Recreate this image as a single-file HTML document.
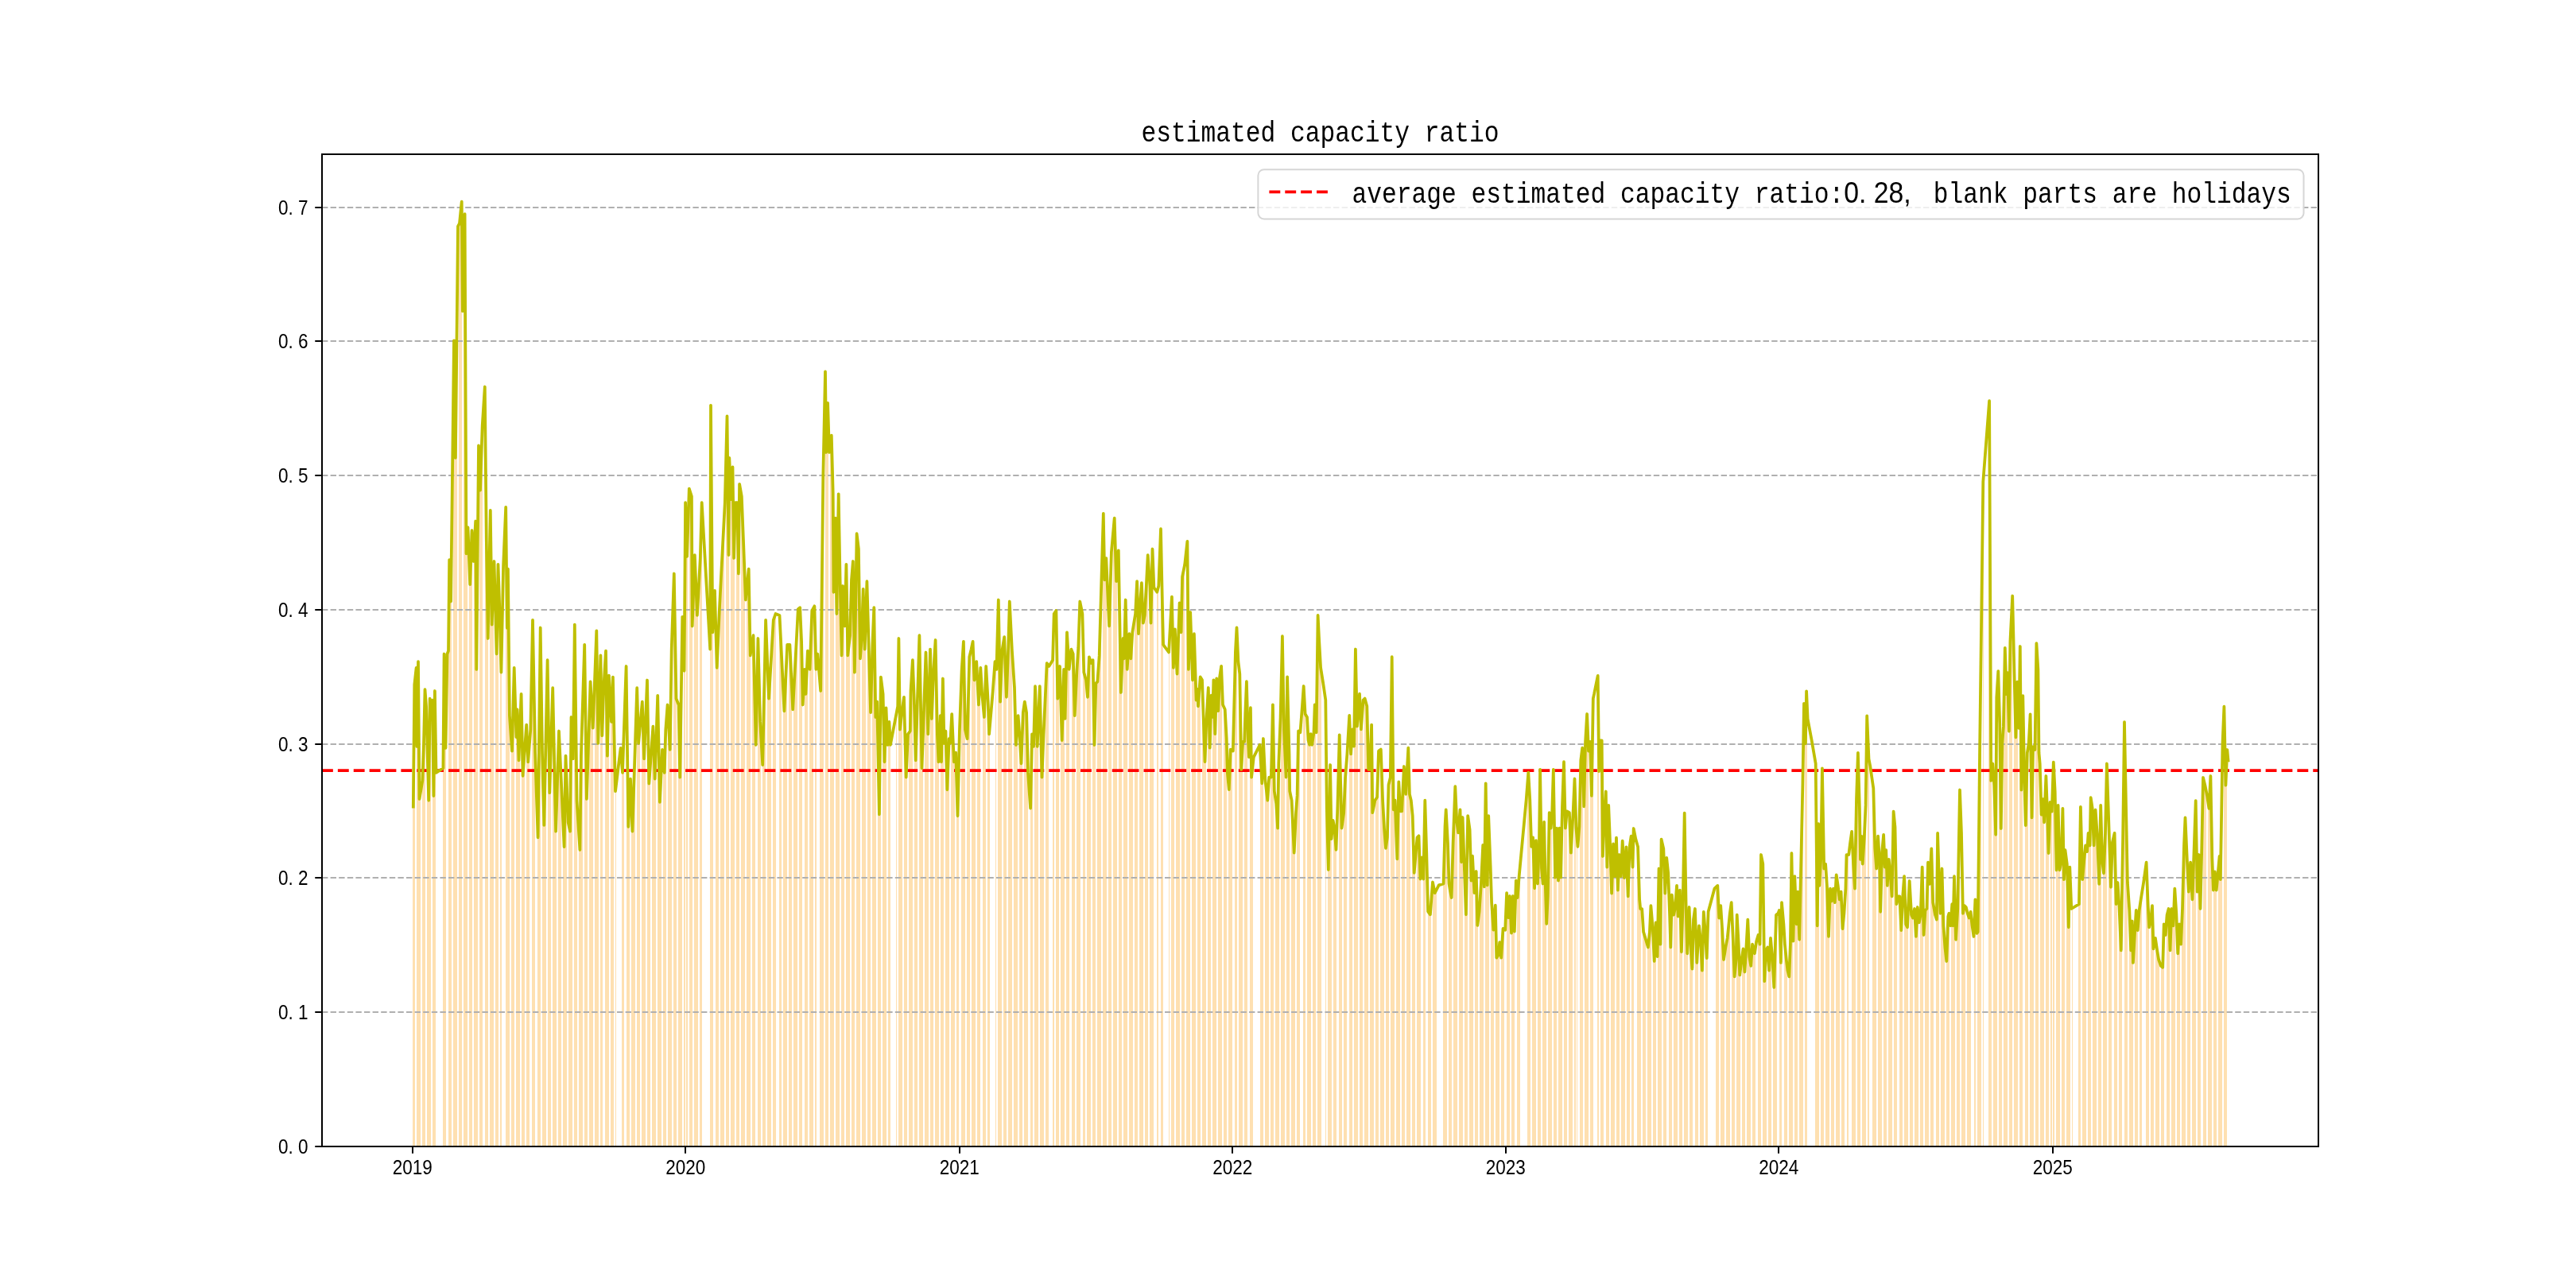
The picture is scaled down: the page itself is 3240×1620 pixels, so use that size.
<!DOCTYPE html><html><head><meta charset="utf-8"><style>html,body{margin:0;padding:0;background:#fff;width:3240px;height:1620px;overflow:hidden}svg{display:block;font-family:"Liberation Mono",monospace;will-change:transform}</style></head><body><svg width="3240" height="1620" viewBox="0 0 3240 1620" font-family="Liberation Mono, monospace" fill="#000"><rect x="0" y="0" width="3240" height="1620" fill="#fff"/><path d="M519 1441.8L519.00 1014.61L520.00 1014.61L520.00 927.64L521.00 927.64L521.00 858.81L522.00 858.81L522 1441.8ZM524 1441.8L524.00 937.25L525.00 937.25L525.00 875.11L526.00 875.11L526.00 867.37L527.00 867.37L527.00 972.07L528.00 972.07L528.00 1001.03L529.00 1001.03L529 1441.8ZM531 1441.8L531.00 984.09L531.80 984.09L531.80 965.76L532.60 965.76L532.60 937.52L533.40 937.52L533.40 897.49L534.20 897.49L534.20 870.48L535.00 870.48L535 1441.8ZM537 1441.8L537.00 946.29L538.00 946.29L538.00 982.17L539.00 982.17L539.00 982.61L540.00 982.61L540.00 904.96L541.00 904.96L541.00 882.64L542.00 882.64L542 1441.8ZM544 1441.8L544.00 907.12L544.80 907.12L544.80 980.06L545.60 980.06L545.60 944.02L546.40 944.02L546.40 872.95L547.20 872.95L547.20 935.30L548.00 935.30L548 1441.8ZM557 1441.8L557.00 966.13L557.80 966.13L557.80 858.61L558.60 858.61L558.60 861.98L559.40 861.98L559.40 919.39L560.20 919.39L560.20 904.91L561.00 904.91L561 1441.8ZM564 1441.8L564.00 818.77L564.80 818.77L564.80 733.99L565.60 733.99L565.60 721.24L566.40 721.24L566.40 746.65L567.20 746.65L567.20 707.60L568.00 707.60L568 1441.8ZM570 1441.8L570.00 468.90L571.00 468.90L571.00 463.28L572.00 463.28L572.00 534.81L573.00 534.81L573.00 538.11L574.00 538.11L574.00 449.88L575.00 449.88L575 1441.8ZM577 1441.8L577.00 282.52L577.80 282.52L577.80 280.15L578.60 280.15L578.60 270.74L579.40 270.74L579.40 261.33L580.20 261.33L580.20 273.37L581.00 273.37L581 1441.8ZM583 1441.8L583.00 309.23L584.00 309.23L584.00 280.06L585.00 280.06L585.00 487.19L586.00 487.19L586.00 694.32L587.00 694.32L587.00 680.44L588.00 680.44L588 1441.8ZM590 1441.8L590.00 711.25L590.80 711.25L590.80 733.99L591.60 733.99L591.60 706.54L592.40 706.54L592.40 679.09L593.20 679.09L593.20 677.83L594.00 677.83L594 1441.8ZM596 1441.8L596.00 679.71L597.00 679.71L597.00 662.23L598.00 662.23L598.00 748.34L599.00 748.34L599.00 804.91L600.00 804.91L600.00 707.38L601.00 707.38L601 1441.8ZM603 1441.8L603.00 600.97L604.00 600.97L604.00 604.43L605.00 604.43L605.00 576.20L606.00 576.20L606.00 547.96L607.00 547.96L607 1441.8ZM610 1441.8L610.00 509.09L610.80 509.09L610.80 602.33L611.60 602.33L611.60 689.65L612.40 689.65L612.40 749.88L613.20 749.88L613.20 797.31L614.00 797.31L614 1441.8ZM616 1441.8L616.00 650.84L617.00 650.84L617.00 698.88L618.00 698.88L618.00 768.53L619.00 768.53L619.00 764.76L620.00 764.76L620.00 737.20L621.00 737.20L621 1441.8ZM623 1441.8L623.00 771.92L623.80 771.92L623.80 807.21L624.60 807.21L624.60 791.44L625.40 791.44L625.40 736.85L626.20 736.85L626.20 724.16L627.00 724.16L627 1441.8ZM629 1441.8L629.00 822.45L630.00 822.45L630.00 828.07L631.00 828.07L631 1441.8ZM636 1441.8L636.00 655.77L637.00 655.77L637.00 747.86L638.00 747.86L638.00 757.24L639.00 757.24L639.00 743.12L640.00 743.12L640.00 832.53L641.00 832.53L641 1441.8ZM643 1441.8L643.00 930.46L643.80 930.46L643.80 943.99L644.60 943.99L644.60 910.45L645.40 910.45L645.40 874.15L646.20 874.15L646.20 841.65L647.00 841.65L647 1441.8ZM649 1441.8L649.00 922.47L650.00 922.47L650.00 894.24L651.00 894.24L651.00 921.29L652.00 921.29L652.00 952.35L653.00 952.35L653.00 934.37L654.00 934.37L654 1441.8ZM656 1441.8L656.00 901.37L656.80 901.37L656.80 951.25L657.60 951.25L657.60 969.22L658.40 969.22L658.40 956.28L659.20 956.28L659.20 943.34L660.00 943.34L660 1441.8ZM662 1441.8L662.00 924.35L663.00 924.35L663.00 946.94L664.00 946.94L664.00 952.20L665.00 952.20L665.00 939.84L666.00 939.84L666 1441.8ZM669 1441.8L669.00 812.74L669.80 812.74L669.80 795.38L670.60 795.38L670.60 845.96L671.40 845.96L671.40 896.55L672.20 896.55L672.20 946.94L673.00 946.94L673 1441.8ZM676 1441.8L676.00 1033.21L676.80 1033.21L676.80 1029.69L677.60 1029.69L677.60 949.69L678.40 949.69L678.40 869.69L679.20 869.69L679.20 789.69L680.00 789.69L680 1441.8ZM682 1441.8L682.00 965.93L683.00 965.93L683.00 1002.79L684.00 1002.79L684.00 1035.74L685.00 1035.74L685.00 989.96L686.00 989.96L686.00 944.19L687.00 944.19L687 1441.8ZM689 1441.8L689.00 859.71L689.80 859.71L689.80 917.53L690.60 917.53L690.60 975.34L691.40 975.34L691.40 977.21L692.20 977.21L692.20 945.21L693.00 945.21L693 1441.8ZM695 1441.8L695.00 886.95L696.00 886.95L696.00 930.72L697.00 930.72L697.00 974.48L698.00 974.48L698.00 1018.25L699.00 1018.25L699.00 1034.25L700.00 1034.25L700 1441.8ZM702 1441.8L702.00 942.48L702.80 942.48L702.80 924.65L703.60 924.65L703.60 945.36L704.40 945.36L704.40 966.06L705.20 966.06L705.20 986.77L706.00 986.77L706 1441.8ZM708 1441.8L708.00 1049.17L709.00 1049.17L709.00 1051.94L710.00 1051.94L710.00 996.41L711.00 996.41L711.00 954.97L712.00 954.97L712.00 980.26L713.00 980.26L713 1441.8ZM715 1441.8L715.00 1038.14L716.00 1038.14L716.00 1042.84L717.00 1042.84L717.00 1010.88L718.00 1010.88L718.00 923.82L719.00 923.82L719.00 917.91L720.00 917.91L720 1441.8ZM722 1441.8L722.00 850.05L722.80 850.05L722.80 801.86L723.60 801.86L723.60 878.50L724.40 878.50L724.40 955.14L725.20 955.14L725.20 1011.75L726.00 1011.75L726 1441.8ZM728 1441.8L728.00 1056.92L729.00 1056.92L729.00 1054.57L730.00 1054.57L730.00 982.81L731.00 982.81L731.00 933.60L732.00 933.60L732.00 902.80L733.00 902.80L733 1441.8ZM735 1441.8L735.00 811.71L735.80 811.71L735.80 878.94L736.60 878.94L736.60 946.16L737.40 946.16L737.40 1001.15L738.20 1001.15L738.20 971.35L739.00 971.35L739 1441.8ZM741 1441.8L741.00 881.94L742.00 881.94L742.00 860.50L743.00 860.50L743.00 878.15L744.00 878.15L744.00 895.80L745.00 895.80L745.00 913.44L746.00 913.44L746 1441.8ZM748 1441.8L748.00 846.29L749.00 846.29L749.00 820.75L750.00 820.75L750.00 795.20L751.00 795.20L751.00 857.03L752.00 857.03L752.00 925.73L753.00 925.73L753 1441.8ZM755 1441.8L755.00 838.98L755.75 838.98L755.75 852.04L756.50 852.04L756.50 900.98L757.25 900.98L757.25 910.67L758.00 910.67L758 1441.8ZM761 1441.8L761.00 825.79L762.00 825.79L762.00 853.95L763.00 853.95L763.00 917.95L764.00 917.95L764.00 926.56L765.00 926.56L765.00 877.62L766.00 877.62L766 1441.8ZM768 1441.8L768.00 892.47L768.80 892.47L768.80 904.36L769.60 904.36L769.60 877.06L770.40 877.06L770.40 854.44L771.20 854.44L771.20 897.97L772.00 897.97L772 1441.8ZM774 1441.8L774.00 989.26L775.00 989.26L775 1441.8ZM782 1441.8L782.00 962.87L782.75 962.87L782.75 964.35L783.50 964.35L783.50 937.30L784.25 937.30L784.25 910.24L785.00 910.24L785 1441.8ZM788 1441.8L788.00 861.03L788.80 861.03L788.80 930.94L789.60 930.94L789.60 1000.85L790.40 1000.85L790.40 1030.63L791.20 1030.63L791.20 1009.79L792.00 1009.79L792 1441.8ZM794 1441.8L794.00 1021.14L795.00 1021.14L795.00 1043.33L796.00 1043.33L796.00 1014.15L797.00 1014.15L797.00 984.98L798.00 984.98L798.00 955.80L799.00 955.80L799 1441.8ZM801 1441.8L801.00 868.28L801.80 868.28L801.80 895.41L802.60 895.41L802.60 929.29L803.40 929.29L803.40 926.24L804.20 926.24L804.20 915.65L805.00 915.65L805 1441.8ZM807 1441.8L807.00 883.88L808.00 883.88L808.00 908.19L809.00 908.19L809.00 937.21L810.00 937.21L810.00 944.69L811.00 944.69L811.00 920.69L812.00 920.69L812 1441.8ZM814 1441.8L814.00 870.24L814.80 870.24L814.80 922.79L815.60 922.79L815.60 975.34L816.40 975.34L816.40 974.69L817.20 974.69L817.20 961.30L818.00 961.30L818 1441.8ZM820 1441.8L820.00 921.12L821.00 921.12L821.00 925.53L822.00 925.53L822.00 952.20L823.00 952.20L823.00 978.86L824.00 978.86L824.00 952.30L825.00 952.30L825 1441.8ZM827 1441.8L827.00 886.80L828.00 886.80L828.00 933.18L829.00 933.18L829.00 979.57L830.00 979.57L830.00 1001.39L831.00 1001.39L831.00 981.39L832.00 981.39L832 1441.8ZM834 1441.8L834.00 953.59L834.80 953.59L834.80 963.67L835.60 963.67L835.60 965.88L836.40 965.88L836.40 932.94L837.20 932.94L837.20 910.87L838.00 910.87L838 1441.8ZM840 1441.8L840.00 904.56L841.00 904.56L841.00 921.62L842.00 921.62L842.00 938.67L843.00 938.67L843.00 896.40L844.00 896.40L844.00 835.22L845.00 835.22L845 1441.8ZM847 1441.8L847.00 738.92L847.80 738.92L847.80 743.10L848.60 743.10L848.60 797.55L849.40 797.55L849.40 852.01L850.20 852.01L850.20 879.94L851.00 879.94L851 1441.8ZM853 1441.8L853.00 898.07L854.00 898.07L854.00 953.37L855.00 953.37L855.00 943.52L856.00 943.52L856.00 882.34L857.00 882.34L857.00 821.17L858.00 821.17L858 1441.8ZM860 1441.8L860.00 837.89L861.00 837.89L861.00 743.10L862.00 743.10L862 1441.8ZM863 1441.8L863.00 669.46L864.00 669.46L864.00 697.87L865.00 697.87L865 1441.8ZM867 1441.8L867.00 615.16L867.80 615.16L867.80 618.10L868.60 618.10L868.60 621.04L869.40 621.04L869.40 623.98L870.20 623.98L870.20 785.88L871.00 785.88L871 1441.8ZM873 1441.8L873.00 704.71L874.00 704.71L874.00 715.68L875.00 715.68L875.00 738.62L876.00 738.62L876.00 761.56L877.00 761.56L877.00 765.90L878.00 765.90L878 1441.8ZM880 1441.8L880.00 713.67L880.75 713.67L880.75 690.70L881.50 690.70L881.50 656.74L882.25 656.74L882.25 636.62L883.00 636.62L883 1441.8ZM893 1441.8L893.00 765.67L893.80 765.67L893.80 545.80L894.60 545.80L894.60 661.15L895.40 661.15L895.40 776.50L896.20 776.50L896.20 780.08L897.00 780.08L897 1441.8ZM900 1441.8L900.00 774.80L900.80 774.80L900.80 808.41L901.60 808.41L901.60 838.56L902.40 838.56L902.40 816.80L903.20 816.80L903.20 795.03L904.00 795.03L904 1441.8ZM906 1441.8L906.00 735.81L907.00 735.81L907.00 717.49L908.00 717.49L908.00 699.17L909.00 699.17L909.00 680.85L910.00 680.85L910.00 662.52L911.00 662.52L911 1441.8ZM913 1441.8L913.00 581.70L913.80 581.70L913.80 544.05L914.60 544.05L914.60 561.59L915.40 561.59L915.40 646.29L916.20 646.29L916.20 640.47L917.00 640.47L917 1441.8ZM919 1441.8L919.00 626.44L920.00 626.44L920.00 606.68L921.00 606.68L921.00 589.28L922.00 589.28L922.00 658.69L923.00 658.69L923.00 689.20L924.00 689.20L924 1441.8ZM926 1441.8L926.00 632.08L926.80 632.08L926.80 632.08L927.60 632.08L927.60 677.51L928.40 677.51L928.40 704.13L929.20 704.13L929.20 613.15L930.00 613.15L930 1441.8ZM932 1441.8L932.00 625.84L933.00 625.84L933.00 649.37L934.00 649.37L934.00 672.90L935.00 672.90L935.00 697.25L936.00 697.25L936.00 722.18L937.00 722.18L937 1441.8ZM939 1441.8L939.00 738.49L940.00 738.49L940.00 729.08L941.00 729.08L941.00 719.67L942.00 719.67L942.00 746.16L943.00 746.16L943.00 798.86L944.00 798.86L944 1441.8ZM946 1441.8L946.00 809.01L946.80 809.01L946.80 802.89L947.60 802.89L947.60 815.48L948.40 815.48L948.40 857.25L949.20 857.25L949.20 899.01L950.00 899.01L950 1441.8ZM953 1441.8L953.00 810.44L954.00 810.44L954.00 846.74L955.00 846.74L955.00 883.04L956.00 883.04L956.00 913.07L957.00 913.07L957 1441.8ZM959 1441.8L959.00 961.47L959.80 961.47L959.80 917.24L960.60 917.24L960.60 873.00L961.40 873.00L961.40 828.77L962.20 828.77L962.20 784.53L963.00 784.53L963 1441.8ZM965 1441.8L965.00 849.16L966.00 849.16L966.00 873.15L967.00 873.15L967.00 866.47L968.00 866.47L968.00 850.47L969.00 850.47L969.00 834.47L970.00 834.47L970 1441.8ZM972 1441.8L972.00 786.47L973.00 786.47L973.00 778.19L974.00 778.19L974.00 775.50L975.00 775.50L975.00 772.81L976.00 772.81L976 1441.8ZM980 1441.8L980.00 780.46L981.00 780.46L981.00 800.23L982.00 800.23L982.00 819.87L983.00 819.87L983 1441.8ZM985 1441.8L985.00 877.75L986.00 877.75L986.00 891.37L987.00 891.37L987.00 871.13L988.00 871.13L988.00 850.90L989.00 850.90L989.00 830.66L990.00 830.66L990 1441.8ZM992 1441.8L992.00 810.81L992.80 810.81L992.80 810.81L993.60 810.81L993.60 825.02L994.40 825.02L994.40 844.78L995.20 844.78L995.20 864.55L996.00 864.55L996 1441.8ZM998 1441.8L998.00 863.57L999.00 863.57L999.00 845.53L1000.00 845.53L1000.00 827.49L1001.00 827.49L1001.00 809.45L1002.00 809.45L1002.00 791.52L1003.00 791.52L1003 1441.8ZM1005 1441.8L1005.00 764.92L1005.80 764.92L1005.80 766.45L1006.60 766.45L1006.60 787.15L1007.40 787.15L1007.40 809.10L1008.20 809.10L1008.20 857.33L1009.00 857.33L1009 1441.8ZM1012 1441.8L1012.00 843.30L1012.80 843.30L1012.80 859.19L1013.60 859.19L1013.60 866.98L1014.40 866.98L1014.40 845.02L1015.20 845.02L1015.20 823.06L1016.00 823.06L1016 1441.8ZM1018 1441.8L1018.00 841.12L1019.00 841.12L1019.00 818.66L1020.00 818.66L1020.00 793.11L1021.00 793.11L1021.00 768.07L1022.00 768.07L1022.00 766.30L1023.00 766.30L1023 1441.8ZM1025 1441.8L1025.00 790.11L1025.67 790.11L1025.67 828.70L1026.33 828.70L1026.33 835.66L1027.00 835.66L1027 1441.8ZM1031 1441.8L1031.00 863.07L1032.00 863.07L1032.00 830.59L1033.00 830.59L1033.00 749.08L1034.00 749.08L1034.00 667.58L1035.00 667.58L1035.00 592.19L1036.00 592.19L1036 1441.8ZM1038 1441.8L1038.00 490.73L1038.80 490.73L1038.80 567.61L1039.60 567.61L1039.60 537.50L1040.40 537.50L1040.40 507.38L1041.20 507.38L1041.20 536.59L1042.00 536.59L1042 1441.8ZM1044 1441.8L1044.00 554.82L1045.00 554.82L1045.00 548.91L1046.00 548.91L1046.00 583.73L1047.00 583.73L1047.00 618.56L1048.00 618.56L1048.00 739.25L1049.00 739.25L1049 1441.8ZM1051 1441.8L1051.00 700.74L1052.00 700.74L1052.00 770.58L1053.00 770.58L1053.00 709.75L1054.00 709.75L1054.00 648.92L1055.00 648.92L1055.00 650.12L1056.00 650.12L1056 1441.8ZM1058 1441.8L1058.00 797.81L1058.80 797.81L1058.80 801.97L1059.60 801.97L1059.60 749.03L1060.40 749.03L1060.40 752.83L1061.20 752.83L1061.20 773.22L1062.00 773.22L1062 1441.8ZM1064 1441.8L1064.00 723.01L1065.00 723.01L1065.00 778.54L1066.00 778.54L1066.00 822.87L1067.00 822.87L1067.00 814.13L1068.00 814.13L1068.00 805.39L1069.00 805.39L1069 1441.8ZM1071 1441.8L1071.00 726.75L1071.80 726.75L1071.80 715.46L1072.60 715.46L1072.60 716.98L1073.40 716.98L1073.40 784.74L1074.20 784.74L1074.20 839.71L1075.00 839.71L1075 1441.8ZM1077 1441.8L1077.00 672.72L1078.00 672.72L1078.00 680.56L1079.00 680.56L1079.00 688.41L1080.00 688.41L1080.00 739.75L1081.00 739.75L1081.00 806.57L1082.00 806.57L1082 1441.8ZM1084 1441.8L1084.00 784.59L1085.00 784.59L1085.00 754.47L1086.00 754.47L1086.00 761.14L1087.00 761.14L1087.00 797.84L1088.00 797.84L1088.00 802.19L1089.00 802.19L1089 1441.8ZM1091 1441.8L1091.00 751.37L1091.80 751.37L1091.80 784.90L1092.60 784.90L1092.60 818.43L1093.40 818.43L1093.40 851.78L1094.20 851.78L1094.20 884.72L1095.00 884.72L1095 1441.8ZM1097 1441.8L1097.00 806.82L1098.00 806.82L1098.00 784.24L1099.00 784.24L1099.00 771.84L1100.00 771.84L1100.00 838.66L1101.00 838.66L1101.00 901.55L1102.00 901.55L1102 1441.8ZM1104 1441.8L1104.00 931.17L1104.80 931.17L1104.80 980.24L1105.60 980.24L1105.60 1015.78L1106.40 1015.78L1106.40 932.02L1107.20 932.02L1107.20 851.86L1108.00 851.86L1108 1441.8ZM1110 1441.8L1110.00 879.22L1111.00 879.22L1111.00 920.63L1112.00 920.63L1112.00 955.36L1113.00 955.36L1113.00 922.42L1114.00 922.42L1114.00 891.01L1115.00 891.01L1115 1441.8ZM1117 1441.8L1117.00 923.35L1118.00 923.35L1118.00 909.23L1119.00 909.23L1119.00 923.79L1120.00 923.79L1120 1441.8ZM1127 1441.8L1127.00 896.52L1128.00 896.52L1128 1441.8ZM1130 1441.8L1130.00 811.10L1131.00 811.10L1131.00 880.51L1132.00 880.51L1132.00 913.54L1133.00 913.54L1133.00 904.91L1134.00 904.91L1134.00 896.29L1135.00 896.29L1135 1441.8ZM1137 1441.8L1137.00 880.44L1137.80 880.44L1137.80 915.40L1138.60 915.40L1138.60 950.35L1139.40 950.35L1139.40 972.97L1140.20 972.97L1140.20 951.01L1141.00 951.01L1141 1441.8ZM1143 1441.8L1143.00 921.04L1144.00 921.04L1144.00 919.70L1145.00 919.70L1145.00 868.57L1146.00 868.57L1146.00 852.89L1147.00 852.89L1147.00 837.20L1148.00 837.20L1148 1441.8ZM1150 1441.8L1150.00 898.76L1150.80 898.76L1150.80 935.47L1151.60 935.47L1151.60 942.21L1152.40 942.21L1152.40 909.27L1153.20 909.27L1153.20 877.07L1154.00 877.07L1154 1441.8ZM1156 1441.8L1156.00 823.47L1157.00 823.47L1157.00 874.05L1158.00 874.05L1158.00 924.64L1159.00 924.64L1159.00 961.23L1160.00 961.23L1160.00 934.34L1161.00 934.34L1161 1441.8ZM1163 1441.8L1163.00 852.94L1164.00 852.94L1164.00 825.49L1165.00 825.49L1165.00 849.68L1166.00 849.68L1166.00 885.31L1167.00 885.31L1167.00 920.93L1168.00 920.93L1168 1441.8ZM1170 1441.8L1170.00 818.49L1170.80 818.49L1170.80 860.84L1171.60 860.84L1171.60 903.19L1172.40 903.19L1172.40 879.34L1173.20 879.34L1173.20 854.24L1174.00 854.24L1174 1441.8ZM1176 1441.8L1176.00 806.51L1177.00 806.51L1177.00 854.35L1178.00 854.35L1178.00 902.19L1179.00 902.19L1179.00 935.18L1180.00 935.18L1180.00 956.36L1181.00 956.36L1181 1441.8ZM1183 1441.8L1183.00 920.44L1183.80 920.44L1183.80 948.42L1184.60 948.42L1184.60 897.60L1185.40 897.60L1185.40 860.06L1186.20 860.06L1186.20 909.47L1187.00 909.47L1187 1441.8ZM1189 1441.8L1189.00 934.53L1190.00 934.53L1190.00 970.30L1191.00 970.30L1191.00 984.00L1192.00 984.00L1192.00 958.12L1193.00 958.12L1193.00 932.23L1194.00 932.23L1194 1441.8ZM1196 1441.8L1196.00 912.98L1197.00 912.98L1197.00 901.71L1198.00 901.71L1198.00 922.55L1199.00 922.55L1199.00 943.39L1200.00 943.39L1200.00 956.99L1201.00 956.99L1201 1441.8ZM1203 1441.8L1203.00 972.68L1203.75 972.68L1203.75 1004.84L1204.50 1004.84L1204.50 1011.86L1205.25 1011.86L1205.25 968.72L1206.00 968.72L1206 1441.8ZM1209 1441.8L1209.00 844.55L1210.00 844.55L1210.00 829.32L1211.00 829.32L1211.00 814.42L1212.00 814.42L1212.00 833.58L1213.00 833.58L1213.00 887.22L1214.00 887.22L1214 1441.8ZM1216 1441.8L1216.00 927.38L1216.80 927.38L1216.80 909.71L1217.60 909.71L1217.60 874.08L1218.40 874.08L1218.40 838.45L1219.20 838.45L1219.20 823.75L1220.00 823.75L1220 1441.8ZM1222 1441.8L1222.00 811.05L1223.00 811.05L1223.00 809.81L1224.00 809.81L1224.00 833.34L1225.00 833.34L1225.00 854.96L1226.00 854.96L1226.00 846.90L1227.00 846.90L1227 1441.8ZM1229 1441.8L1229.00 854.24L1229.80 854.24L1229.80 873.06L1230.60 873.06L1230.60 881.13L1231.40 881.13L1231.40 862.31L1232.20 862.31L1232.20 843.48L1233.00 843.48L1233 1441.8ZM1236 1441.8L1236.00 880.47L1236.80 880.47L1236.80 890.55L1237.60 890.55L1237.60 900.63L1238.40 900.63L1238.40 879.75L1239.20 879.75L1239.20 853.86L1240.00 853.86L1240 1441.8ZM1242 1441.8L1242.00 879.16L1243.00 879.16L1243.00 904.27L1244.00 904.27L1244.00 920.51L1245.00 920.51L1245 1441.8ZM1252 1441.8L1252.00 834.16L1252.50 834.16L1252.50 838.86L1253.00 838.86L1253 1441.8ZM1255 1441.8L1255.00 758.49L1256.00 758.49L1256.00 800.45L1257.00 800.45L1257.00 852.22L1258.00 852.22L1258.00 871.95L1259.00 871.95L1259.00 846.06L1260.00 846.06L1260 1441.8ZM1262 1441.8L1262.00 806.85L1262.80 806.85L1262.80 802.43L1263.60 802.43L1263.60 828.64L1264.40 828.64L1264.40 854.86L1265.20 854.86L1265.20 872.71L1266.00 872.71L1266 1441.8ZM1268 1441.8L1268.00 790.40L1269.00 790.40L1269.00 757.18L1270.00 757.18L1270.00 776.01L1271.00 776.01L1271.00 794.83L1272.00 794.83L1272.00 813.65L1273.00 813.65L1273 1441.8ZM1275 1441.8L1275.00 857.23L1276.00 857.23L1276.00 880.44L1277.00 880.44L1277.00 915.26L1278.00 915.26L1278.00 932.16L1279.00 932.16L1279.00 919.39L1280.00 919.39L1280 1441.8ZM1282 1441.8L1282.00 919.71L1282.80 919.71L1282.80 934.10L1283.60 934.10L1283.60 950.10L1284.40 950.10L1284.40 950.83L1285.20 950.83L1285.20 924.95L1286.00 924.95L1286 1441.8ZM1288 1441.8L1288.00 883.76L1289.00 883.76L1289.00 887.17L1290.00 887.17L1290.00 892.66L1291.00 892.66L1291.00 909.15L1292.00 909.15L1292.00 945.85L1293.00 945.85L1293 1441.8ZM1296 1441.8L1296.00 1016.42L1296.75 1016.42L1296.75 971.82L1297.50 971.82L1297.50 926.64L1298.25 926.64L1298.25 930.37L1299.00 930.37L1299 1441.8ZM1301 1441.8L1301.00 870.44L1302.00 870.44L1302.00 884.27L1303.00 884.27L1303.00 910.49L1304.00 910.49L1304.00 936.71L1305.00 936.71L1305.00 917.90L1306.00 917.90L1306 1441.8ZM1308 1441.8L1308.00 887.65L1309.00 887.65L1309.00 927.31L1310.00 927.31L1310.00 966.98L1311.00 966.98L1311.00 959.21L1312.00 959.21L1312.00 933.80L1313.00 933.80L1313 1441.8ZM1315 1441.8L1315.00 872.25L1315.80 872.25L1315.80 851.86L1316.60 851.86L1316.60 834.27L1317.40 834.27L1317.40 835.62L1318.20 835.62L1318.20 836.96L1319.00 836.96L1319 1441.8ZM1324 1441.8L1324.00 819.90L1325.00 819.90L1325.00 784.61L1326.00 784.61L1326 1441.8ZM1328 1441.8L1328.00 768.43L1328.80 768.43L1328.80 808.61L1329.60 808.61L1329.60 862.25L1330.40 862.25L1330.40 868.96L1331.20 868.96L1331.20 854.85L1332.00 854.85L1332 1441.8ZM1334 1441.8L1334.00 896.24L1335.00 896.24L1335.00 928.50L1336.00 928.50L1336.00 898.03L1337.00 898.03L1337.00 861.95L1338.00 861.95L1338.00 858.55L1339.00 858.55L1339 1441.8ZM1341 1441.8L1341.00 825.21L1341.80 825.21L1341.80 800.42L1342.60 800.42L1342.60 816.55L1343.40 816.55L1343.40 832.69L1344.20 832.69L1344.20 838.10L1345.00 838.10L1345 1441.8ZM1348 1441.8L1348.00 817.91L1348.80 817.91L1348.80 820.26L1349.60 820.26L1349.60 825.05L1350.40 825.05L1350.40 862.70L1351.20 862.70L1351.20 899.96L1352.00 899.96L1352 1441.8ZM1354 1441.8L1354.00 842.12L1355.00 842.12L1355.00 828.00L1356.00 828.00L1356.00 813.08L1357.00 813.08L1357.00 784.85L1358.00 784.85L1358.00 756.61L1359.00 756.61L1359 1441.8ZM1362 1441.8L1362.00 796.84L1362.75 796.84L1362.75 832.60L1363.50 832.60L1363.50 847.87L1364.25 847.87L1364.25 851.23L1365.00 851.23L1365 1441.8ZM1367 1441.8L1367.00 873.52L1368.00 873.52L1368.00 860.09L1369.00 860.09L1369.00 835.62L1370.00 835.62L1370.00 828.00L1371.00 828.00L1371.00 830.69L1372.00 830.69L1372 1441.8ZM1374 1441.8L1374.00 830.84L1374.80 830.84L1374.80 864.94L1375.60 864.94L1375.60 916.70L1376.40 916.70L1376.40 914.07L1377.20 914.07L1377.20 876.42L1378.00 876.42L1378 1441.8ZM1380 1441.8L1380.00 850.94L1381.00 850.94L1381.00 837.61L1382.00 837.61L1382.00 824.10L1383.00 824.10L1383.00 791.16L1384.00 791.16L1384.00 758.22L1385.00 758.22L1385 1441.8ZM1387 1441.8L1387.00 657.74L1388.00 657.74L1388.00 678.54L1389.00 678.54L1389.00 729.12L1390.00 729.12L1390.00 716.15L1391.00 716.15L1391.00 702.98L1392.00 702.98L1392 1441.8ZM1394 1441.8L1394.00 762.87L1394.80 762.87L1394.80 783.58L1395.60 783.58L1395.60 761.39L1396.40 761.39L1396.40 729.12L1397.20 729.12L1397.20 696.85L1398.00 696.85L1398 1441.8ZM1400 1441.8L1400.00 664.09L1401.00 664.09L1401.00 653.74L1402.00 653.74L1402.00 677.30L1403.00 677.30L1403.00 709.45L1404.00 709.45L1404.00 726.89L1405.00 726.89L1405 1441.8ZM1407 1441.8L1407.00 715.98L1407.80 715.98L1407.80 770.09L1408.60 770.09L1408.60 824.21L1409.40 824.21L1409.40 867.78L1410.20 867.78L1410.20 844.26L1411.00 844.26L1411 1441.8ZM1413 1441.8L1413.00 827.88L1414.00 827.88L1414.00 792.12L1415.00 792.12L1415.00 756.36L1416.00 756.36L1416.00 794.70L1417.00 794.70L1417.00 837.05L1418.00 837.05L1418 1441.8ZM1420 1441.8L1420.00 797.24L1421.00 797.24L1421.00 812.26L1422.00 812.26L1422.00 827.32L1423.00 827.32L1423.00 813.29L1424.00 813.29L1424.00 797.29L1425.00 797.29L1425 1441.8ZM1427 1441.8L1427.00 779.05L1427.80 779.05L1427.80 773.40L1428.60 773.40L1428.60 757.17L1429.40 757.17L1429.40 737.41L1430.20 737.41L1430.20 753.21L1431.00 753.21L1431 1441.8ZM1433 1441.8L1433.00 768.17L1434.00 768.17L1434.00 752.93L1435.00 752.93L1435.00 739.75L1436.00 739.75L1436.00 745.40L1437.00 745.40L1437.00 769.87L1438.00 769.87L1438 1441.8ZM1440 1441.8L1440.00 767.57L1440.80 767.57L1440.80 750.63L1441.60 750.63L1441.60 732.81L1442.40 732.81L1442.40 713.04L1443.20 713.04L1443.20 701.60L1444.00 701.60L1444 1441.8ZM1446 1441.8L1446.00 750.73L1447.00 750.73L1447.00 777.95L1448.00 777.95L1448.00 732.77L1449.00 732.77L1449.00 691.96L1450.00 691.96L1450.00 715.49L1451.00 715.49L1451 1441.8ZM1455 1441.8L1455.00 744.64L1455.67 744.64L1455.67 741.51L1456.33 741.51L1456.33 737.75L1457.00 737.75L1457 1441.8ZM1460 1441.8L1460.00 667.06L1460.75 667.06L1460.75 707.39L1461.50 707.39L1461.50 752.88L1462.25 752.88L1462.25 795.89L1463.00 795.89L1463 1441.8ZM1470 1441.8L1470.00 817.08L1471.00 817.08L1471 1441.8ZM1473 1441.8L1473.00 766.26L1473.80 766.26L1473.80 754.00L1474.60 754.00L1474.60 797.29L1475.40 797.29L1475.40 839.56L1476.20 839.56L1476.20 816.03L1477.00 816.03L1477 1441.8ZM1479 1441.8L1479.00 829.47L1480.00 829.47L1480.00 845.91L1481.00 845.91L1481.00 818.85L1482.00 818.85L1482.00 791.79L1483.00 791.79L1483.00 764.73L1484.00 764.73L1484 1441.8ZM1486 1441.8L1486.00 765.48L1486.80 765.48L1486.80 725.15L1487.60 725.15L1487.60 720.45L1488.40 720.45L1488.40 715.74L1489.20 715.74L1489.20 711.03L1490.00 711.03L1490 1441.8ZM1492 1441.8L1492.00 685.58L1493.00 685.58L1493.00 725.10L1494.00 725.10L1494.00 822.74L1495.00 822.74L1495.00 818.53L1496.00 818.53L1496.00 789.51L1497.00 789.51L1497 1441.8ZM1499 1441.8L1499.00 838.95L1500.00 838.95L1500.00 842.97L1501.00 842.97L1501.00 814.73L1502.00 814.73L1502.00 808.20L1503.00 808.20L1503.00 837.10L1504.00 837.10L1504 1441.8ZM1506 1441.8L1506.00 868.24L1506.80 868.24L1506.80 888.05L1507.60 888.05L1507.60 875.28L1508.40 875.28L1508.40 862.51L1509.20 862.51L1509.20 851.60L1510.00 851.60L1510 1441.8ZM1512 1441.8L1512.00 872.24L1513.00 872.24L1513.00 898.14L1514.00 898.14L1514.00 927.32L1515.00 927.32L1515.00 956.49L1516.00 956.49L1516.00 934.19L1517.00 934.19L1517 1441.8ZM1519 1441.8L1519.00 874.77L1519.80 874.77L1519.80 879.88L1520.60 879.88L1520.60 916.59L1521.40 916.59L1521.40 929.69L1522.20 929.69L1522.20 897.69L1523.00 897.69L1523 1441.8ZM1525 1441.8L1525.00 878.10L1526.00 878.10L1526.00 868.25L1527.00 868.25L1527.00 901.19L1528.00 901.19L1528.00 911.98L1529.00 911.98L1529.00 878.10L1530.00 878.10L1530 1441.8ZM1532 1441.8L1532.00 889.82L1533.00 889.82L1533.00 869.11L1534.00 869.11L1534.00 850.45L1535.00 850.45L1535.00 843.86L1536.00 843.86L1536.00 839.74L1537.00 839.74L1537 1441.8ZM1539 1441.8L1539.00 888.39L1539.80 888.39L1539.80 890.41L1540.60 890.41L1540.60 894.53L1541.40 894.53L1541.40 912.41L1542.20 912.41L1542.20 931.45L1543.00 931.45L1543 1441.8ZM1545 1441.8L1545.00 990.71L1546.00 990.71L1546.00 974.24L1547.00 974.24L1547.00 949.77L1548.00 949.77L1548.00 943.04L1549.00 943.04L1549.00 943.63L1550.00 943.63L1550 1441.8ZM1553 1441.8L1553.00 856.71L1553.75 856.71L1553.75 818.30L1554.50 818.30L1554.50 799.48L1555.25 799.48L1555.25 798.78L1556.00 798.78L1556 1441.8ZM1558 1441.8L1558.00 842.50L1559.00 842.50L1559.00 866.99L1560.00 866.99L1560.00 925.34L1561.00 925.34L1561.00 963.26L1562.00 963.26L1562.00 946.32L1563.00 946.32L1563 1441.8ZM1565 1441.8L1565.00 928.78L1565.80 928.78L1565.80 900.54L1566.60 900.54L1566.60 875.52L1567.40 875.52L1567.40 866.25L1568.20 866.25L1568.20 901.07L1569.00 901.07L1569 1441.8ZM1572 1441.8L1572.00 923.43L1572.80 923.43L1572.80 893.31L1573.60 893.31L1573.60 953.54L1574.40 953.54L1574.40 971.80L1575.20 971.80L1575.20 963.06L1576.00 963.06L1576 1441.8ZM1585 1441.8L1585.00 945.59L1585.80 945.59L1585.80 962.40L1586.60 962.40L1586.60 979.20L1587.40 979.20L1587.40 963.64L1588.20 963.64L1588.20 929.52L1589.00 929.52L1589 1441.8ZM1591 1441.8L1591.00 983.71L1592.00 983.71L1592.00 991.95L1593.00 991.95L1593.00 1000.18L1594.00 1000.18L1594.00 1003.70L1595.00 1003.70L1595.00 989.58L1596.00 989.58L1596 1441.8ZM1598 1441.8L1598.00 977.56L1598.80 977.56L1598.80 966.00L1599.60 966.00L1599.60 921.76L1600.40 921.76L1600.40 896.83L1601.20 896.83L1601.20 949.53L1602.00 949.53L1602 1441.8ZM1604 1441.8L1604.00 1008.44L1605.00 1008.44L1605.00 1020.53L1606.00 1020.53L1606.00 1035.58L1607.00 1035.58L1607.00 1002.12L1608.00 1002.12L1608.00 951.57L1609.00 951.57L1609 1441.8ZM1611 1441.8L1611.00 865.40L1612.00 865.40L1612.00 824.30L1613.00 824.30L1613.00 823.60L1614.00 823.60L1614.00 880.45L1615.00 880.45L1615.00 924.69L1616.00 924.69L1616 1441.8ZM1618 1441.8L1618.00 942.17L1618.80 942.17L1618.80 865.70L1619.60 865.70L1619.60 883.28L1620.40 883.28L1620.40 922.49L1621.20 922.49L1621.20 967.54L1622.00 967.54L1622 1441.8ZM1624 1441.8L1624.00 1007.44L1625.00 1007.44L1625.00 1027.44L1626.00 1027.44L1626.00 1047.44L1627.00 1047.44L1627.00 1067.44L1628.00 1067.44L1628.00 1057.61L1629.00 1057.61L1629 1441.8ZM1631 1441.8L1631.00 1005.85L1631.80 1005.85L1631.80 970.53L1632.60 970.53L1632.60 921.12L1633.40 921.12L1633.40 920.09L1634.20 920.09L1634.20 920.87L1635.00 920.87L1635 1441.8ZM1639 1441.8L1639.00 863.68L1640.00 863.68L1640.00 879.17L1641.00 879.17L1641.00 896.11L1642.00 896.11L1642 1441.8ZM1644 1441.8L1644.00 909.18L1645.00 909.18L1645.00 926.83L1646.00 926.83L1646.00 933.68L1647.00 933.68L1647.00 935.86L1648.00 935.86L1648.00 927.62L1649.00 927.62L1649 1441.8ZM1651 1441.8L1651.00 931.69L1651.80 931.69L1651.80 925.41L1652.60 925.41L1652.60 911.67L1653.40 911.67L1653.40 888.08L1654.20 888.08L1654.20 905.02L1655.00 905.02L1655 1441.8ZM1657 1441.8L1657.00 775.32L1658.00 775.32L1658.00 792.17L1659.00 792.17L1659.00 810.37L1660.00 810.37L1660.00 827.31L1661.00 827.31L1661.00 841.32L1662.00 841.32L1662 1441.8ZM1667 1441.8L1667.00 878.35L1667.50 878.35L1667.50 935.38L1668.00 935.38L1668 1441.8ZM1670 1441.8L1670.00 1092.29L1671.00 1092.29L1671.00 1043.14L1672.00 1043.14L1672.00 989.81L1673.00 989.81L1673.00 989.09L1674.00 989.09L1674.00 1045.56L1675.00 1045.56L1675 1441.8ZM1677 1441.8L1677.00 1035.52L1677.80 1035.52L1677.80 1040.22L1678.60 1040.22L1678.60 1050.90L1679.40 1050.90L1679.40 1064.07L1680.20 1064.07L1680.20 1051.87L1681.00 1051.87L1681 1441.8ZM1684 1441.8L1684.00 956.95L1684.80 956.95L1684.80 928.64L1685.60 928.64L1685.60 969.25L1686.40 969.25L1686.40 1009.85L1687.20 1009.85L1687.20 1040.15L1688.00 1040.15L1688 1441.8ZM1690 1441.8L1690.00 1015.05L1691.00 1015.05L1691.00 993.41L1692.00 993.41L1692.00 974.41L1693.00 974.41L1693.00 962.64L1694.00 962.64L1694 1441.8ZM1697 1441.8L1697.00 901.50L1697.80 901.50L1697.80 921.24L1698.60 921.24L1698.60 944.77L1699.40 944.77L1699.40 935.75L1700.20 935.75L1700.20 920.69L1701.00 920.69L1701 1441.8ZM1703 1441.8L1703.00 896.12L1704.00 896.12L1704.00 836.83L1705.00 836.83L1705.00 847.35L1706.00 847.35L1706.00 894.41L1707.00 894.41L1707.00 906.17L1708.00 906.17L1708 1441.8ZM1710 1441.8L1710.00 879.12L1710.80 879.12L1710.80 900.76L1711.60 900.76L1711.60 914.43L1712.40 914.43L1712.40 901.66L1713.20 901.66L1713.20 888.88L1714.00 888.88L1714 1441.8ZM1716 1441.8L1716.00 879.52L1717.00 879.52L1717.00 882.88L1718.00 882.88L1718.00 886.24L1719.00 886.24L1719.00 903.52L1720.00 903.52L1720.00 942.10L1721.00 942.10L1721 1441.8ZM1723 1441.8L1723.00 960.48L1724.00 960.48L1724.00 933.19L1725.00 933.19L1725.00 930.15L1726.00 930.15L1726.00 1019.56L1727.00 1019.56L1727.00 1017.64L1728.00 1017.64L1728 1441.8ZM1730 1441.8L1730.00 1005.78L1730.80 1005.78L1730.80 1004.43L1731.60 1004.43L1731.60 1003.09L1732.40 1003.09L1732.40 980.68L1733.20 980.68L1733.20 952.44L1734.00 952.44L1734 1441.8ZM1736 1441.8L1736.00 942.74L1737.00 942.74L1737.00 964.20L1738.00 964.20L1738.00 990.08L1739.00 990.08L1739.00 1012.76L1740.00 1012.76L1740.00 1029.70L1741.00 1029.70L1741 1441.8ZM1743 1441.8L1743.00 1065.31L1743.80 1065.31L1743.80 1058.72L1744.60 1058.72L1744.60 1046.39L1745.40 1046.39L1745.40 1006.39L1746.20 1006.39L1746.20 985.22L1747.00 985.22L1747 1441.8ZM1749 1441.8L1749.00 900.70L1750.00 900.70L1750.00 827.29L1751.00 827.29L1751.00 917.91L1752.00 917.91L1752.00 1011.08L1753.00 1011.08L1753.00 1013.12L1754.00 1013.12L1754 1441.8ZM1756 1441.8L1756.00 1054.19L1757.00 1054.19L1757.00 1079.73L1758.00 1079.73L1758.00 1034.67L1759.00 1034.67L1759.00 987.61L1760.00 987.61L1760.00 999.66L1761.00 999.66L1761 1441.8ZM1763 1441.8L1763.00 1020.26L1763.80 1020.26L1763.80 1004.95L1764.60 1004.95L1764.60 985.46L1765.40 985.46L1765.40 965.96L1766.20 965.96L1766.20 976.66L1767.00 976.66L1767 1441.8ZM1769 1441.8L1769.00 973.80L1770.00 973.80L1770.00 956.15L1771.00 956.15L1771.00 945.04L1772.00 945.04L1772.00 980.34L1773.00 980.34L1773.00 1000.70L1774.00 1000.70L1774 1441.8ZM1776 1441.8L1776.00 1019.96L1776.80 1019.96L1776.80 1038.24L1777.60 1038.24L1777.60 1073.06L1778.40 1073.06L1778.40 1094.67L1779.20 1094.67L1779.20 1083.37L1780.00 1083.37L1780 1441.8ZM1782 1441.8L1782.00 1053.11L1783.00 1053.11L1783.00 1052.17L1784.00 1052.17L1784.00 1053.94L1785.00 1053.94L1785.00 1080.29L1786.00 1080.29L1786.00 1105.18L1787.00 1105.18L1787 1441.8ZM1790 1441.8L1790.00 1104.51L1790.75 1104.51L1790.75 1061.87L1791.50 1061.87L1791.50 1013.87L1792.25 1013.87L1792.25 1033.08L1793.00 1033.08L1793 1441.8ZM1796 1441.8L1796.00 1136.35L1796.80 1136.35L1796.80 1147.40L1797.60 1147.40L1797.60 1148.75L1798.40 1148.75L1798.40 1150.09L1799.20 1150.09L1799.20 1139.96L1800.00 1139.96L1800 1441.8ZM1802 1441.8L1802.00 1112.08L1803.00 1112.08L1803.00 1116.79L1804.00 1116.79L1804.00 1121.49L1805.00 1121.49L1805.00 1121.96L1806.00 1121.96L1806.00 1120.15L1807.00 1120.15L1807 1441.8ZM1815 1441.8L1815.00 1107.95L1816.00 1107.95L1816.00 1073.13L1817.00 1073.13L1817.00 1039.00L1818.00 1039.00L1818.00 1021.74L1819.00 1021.74L1819.00 1032.16L1820.00 1032.16L1820 1441.8ZM1822 1441.8L1822.00 1101.62L1822.80 1101.62L1822.80 1115.47L1823.60 1115.47L1823.60 1121.32L1824.40 1121.32L1824.40 1126.03L1825.20 1126.03L1825.20 1116.53L1826.00 1116.53L1826 1441.8ZM1828 1441.8L1828.00 1028.32L1829.00 1028.32L1829.00 1003.44L1830.00 1003.44L1830.00 998.47L1831.00 998.47L1831.00 1020.11L1832.00 1020.11L1832.00 1036.26L1833.00 1036.26L1833 1441.8ZM1835 1441.8L1835.00 1032.11L1836.00 1032.11L1836.00 1020.34L1837.00 1020.34L1837.00 1051.45L1838.00 1051.45L1838.00 1078.24L1839.00 1078.24L1839.00 1044.12L1840.00 1044.12L1840 1441.8ZM1842 1441.8L1842.00 1097.37L1842.80 1097.37L1842.80 1123.73L1843.60 1123.73L1843.60 1150.08L1844.40 1150.08L1844.40 1100.56L1845.20 1100.56L1845.20 1050.36L1846.00 1050.36L1846 1441.8ZM1848 1441.8L1848.00 1044.84L1849.00 1044.84L1849.00 1075.90L1850.00 1075.90L1850.00 1106.96L1851.00 1106.96L1851.00 1089.18L1852.00 1089.18L1852.00 1082.75L1853.00 1082.75L1853 1441.8ZM1855 1441.8L1855.00 1113.76L1855.80 1113.76L1855.80 1102.78L1856.60 1102.78L1856.60 1111.59L1857.40 1111.59L1857.40 1152.77L1858.20 1152.77L1858.20 1158.75L1859.00 1158.75L1859 1441.8ZM1861 1441.8L1861.00 1128.71L1862.00 1128.71L1862.00 1114.60L1863.00 1114.60L1863.00 1096.20L1864.00 1096.20L1864.00 1076.59L1865.00 1076.59L1865.00 1072.66L1866.00 1072.66L1866 1441.8ZM1868 1441.8L1868.00 1011.00L1869.00 1011.00L1869.00 1022.16L1870.00 1022.16L1870.00 1084.27L1871.00 1084.27L1871.00 1085.34L1872.00 1085.34L1872.00 1032.41L1873.00 1032.41L1873 1441.8ZM1875 1441.8L1875.00 1099.66L1875.80 1099.66L1875.80 1127.89L1876.60 1127.89L1876.60 1145.45L1877.40 1145.45L1877.40 1159.57L1878.20 1159.57L1878.20 1166.19L1879.00 1166.19L1879 1441.8ZM1881 1441.8L1881.00 1170.91L1882.00 1170.91L1882.00 1204.41L1883.00 1204.41L1883.00 1202.84L1884.00 1202.84L1884.00 1201.28L1885.00 1201.28L1885.00 1194.36L1886.00 1194.36L1886 1441.8ZM1888 1441.8L1888.00 1204.37L1888.80 1204.37L1888.80 1190.21L1889.60 1190.21L1889.60 1175.31L1890.40 1175.31L1890.40 1168.11L1891.20 1168.11L1891.20 1168.78L1892.00 1168.78L1892 1441.8ZM1895 1441.8L1895.00 1131.34L1896.00 1131.34L1896.00 1146.40L1897.00 1146.40L1897.00 1147.84L1898.00 1147.84L1898.00 1134.66L1899.00 1134.66L1899 1441.8ZM1901 1441.8L1901.00 1165.52L1901.80 1165.52L1901.80 1142.94L1902.60 1142.94L1902.60 1133.41L1903.40 1133.41L1903.40 1155.06L1904.20 1155.06L1904.20 1164.43L1905.00 1164.43L1905 1441.8ZM1908 1441.8L1908.00 1119.73L1908.80 1119.73L1908.80 1127.53L1909.60 1127.53L1909.60 1114.36L1910.40 1114.36L1910.40 1101.33L1911.20 1101.33L1911.20 1091.30L1912.00 1091.30L1912 1441.8ZM1921 1441.8L1921.00 987.81L1921.80 987.81L1921.80 975.71L1922.60 975.71L1922.60 983.12L1923.40 983.12L1923.40 1000.06L1924.20 1000.06L1924.20 1023.88L1925.00 1023.88L1925 1441.8ZM1927 1441.8L1927.00 1056.17L1928.00 1056.17L1928.00 1068.31L1929.00 1068.31L1929.00 1099.37L1930.00 1099.37L1930.00 1105.00L1931.00 1105.00L1931.00 1075.82L1932.00 1075.82L1932 1441.8ZM1934 1441.8L1934.00 1104.49L1934.80 1104.49L1934.80 1080.96L1935.60 1080.96L1935.60 1044.89L1936.40 1044.89L1936.40 968.03L1937.20 968.03L1937.20 1027.95L1938.00 1027.95L1938 1441.8ZM1940 1441.8L1940.00 1098.06L1941.00 1098.06L1941.00 1051.00L1942.00 1051.00L1942.00 1063.76L1943.00 1063.76L1943.00 1110.82L1944.00 1110.82L1944.00 1141.64L1945.00 1141.64L1945 1441.8ZM1947 1441.8L1947.00 1092.16L1948.00 1092.16L1948.00 1041.34L1949.00 1041.34L1949.00 1028.07L1950.00 1028.07L1950.00 1037.48L1951.00 1037.48L1951.00 1035.01L1952.00 1035.01L1952 1441.8ZM1954 1441.8L1954.00 982.21L1954.80 982.21L1954.80 1037.11L1955.60 1037.11L1955.60 1092.01L1956.40 1092.01L1956.40 1080.04L1957.20 1080.04L1957.20 1049.92L1958.00 1049.92L1958 1441.8ZM1960 1441.8L1960.00 1081.14L1961.00 1081.14L1961.00 1042.06L1962.00 1042.06L1962.00 1079.71L1963.00 1079.71L1963.00 1088.05L1964.00 1088.05L1964.00 1044.76L1965.00 1044.76L1965 1441.8ZM1967 1441.8L1967.00 967.76L1967.80 967.76L1967.80 1008.22L1968.60 1008.22L1968.60 1039.80L1969.40 1039.80L1969.40 1029.45L1970.20 1029.45L1970.20 1020.33L1971.00 1020.33L1971 1441.8ZM1973 1441.8L1973.00 1022.09L1974.00 1022.09L1974.00 1042.09L1975.00 1042.09L1975.00 1066.56L1976.00 1066.56L1976.00 1059.55L1977.00 1059.55L1977.00 1042.08L1978.00 1042.08L1978 1441.8ZM1980 1441.8L1980.00 983.63L1981.00 983.63L1981.00 1003.62L1982.00 1003.62L1982 1441.8ZM1983 1441.8L1983.00 1049.95L1983.50 1049.95L1983.50 1061.25L1984.00 1061.25L1984 1441.8ZM1987 1441.8L1987.00 1014.84L1987.80 1014.84L1987.80 974.37L1988.60 974.37L1988.60 952.06L1989.40 952.06L1989.40 944.53L1990.20 944.53L1990.20 958.17L1991.00 958.17L1991 1441.8ZM1993 1441.8L1993.00 958.05L1994.00 958.05L1994.00 926.75L1995.00 926.75L1995.00 909.81L1996.00 909.81L1996.00 904.80L1997.00 904.80L1997.00 927.39L1998.00 927.39L1998 1441.8ZM2000 1441.8L2000.00 938.75L2000.80 938.75L2000.80 971.69L2001.60 971.69L2001.60 994.05L2002.40 994.05L2002.40 934.76L2003.20 934.76L2003.20 878.34L2004.00 878.34L2004 1441.8ZM2009 1441.8L2009.00 850.51L2010.00 850.51L2010.00 912.99L2011.00 912.99L2011 1441.8ZM2013 1441.8L2013.00 931.40L2013.80 931.40L2013.80 931.40L2014.60 931.40L2014.60 990.59L2015.40 990.59L2015.40 1070.72L2016.20 1070.72L2016.20 1047.19L2017.00 1047.19L2017 1441.8ZM2020 1441.8L2020.00 1003.58L2020.80 1003.58L2020.80 1061.22L2021.60 1061.22L2021.60 1072.07L2022.40 1072.07L2022.40 1034.42L2023.20 1034.42L2023.20 1023.41L2024.00 1023.41L2024 1441.8ZM2026 1441.8L2026.00 1103.25L2027.00 1103.25L2027.00 1114.40L2028.00 1114.40L2028.00 1084.28L2029.00 1084.28L2029.00 1066.22L2030.00 1066.22L2030.00 1085.98L2031.00 1085.98L2031 1441.8ZM2033 1441.8L2033.00 1057.42L2033.80 1057.42L2033.80 1089.42L2034.60 1089.42L2034.60 1118.49L2035.40 1118.49L2035.40 1096.85L2036.20 1096.85L2036.20 1075.20L2037.00 1075.20L2037 1441.8ZM2039 1441.8L2039.00 1082.08L2040.00 1082.08L2040.00 1060.43L2041.00 1060.43L2041.00 1073.89L2042.00 1073.89L2042.00 1092.71L2043.00 1092.71L2043.00 1097.99L2044.00 1097.99L2044 1441.8ZM2046 1441.8L2046.00 1088.36L2046.80 1088.36L2046.80 1113.46L2047.60 1113.46L2047.60 1114.10L2048.40 1114.10L2048.40 1083.98L2049.20 1083.98L2049.20 1062.82L2050.00 1062.82L2050 1441.8ZM2052 1441.8L2052.00 1076.55L2053.00 1076.55L2053.00 1080.53L2054.00 1080.53L2054.00 1042.12L2055.00 1042.12L2055 1441.8ZM2059 1441.8L2059.00 1062.78L2060.00 1062.78L2060.00 1073.13L2061.00 1073.13L2061.00 1105.13L2062.00 1105.13L2062.00 1133.03L2063.00 1133.03L2063.00 1142.44L2064.00 1142.44L2064 1441.8ZM2066 1441.8L2066.00 1155.41L2066.80 1155.41L2066.80 1169.53L2067.60 1169.53L2067.60 1174.65L2068.40 1174.65L2068.40 1177.79L2069.20 1177.79L2069.20 1180.93L2070.00 1180.93L2070 1441.8ZM2072 1441.8L2072.00 1190.34L2073.00 1190.34L2073.00 1185.54L2074.00 1185.54L2074.00 1176.13L2075.00 1176.13L2075.00 1160.68L2076.00 1160.68L2076.00 1140.68L2077.00 1140.68L2077 1441.8ZM2079 1441.8L2079.00 1177.00L2079.80 1177.00L2079.80 1196.76L2080.60 1196.76L2080.60 1199.95L2081.40 1199.95L2081.40 1176.42L2082.20 1176.42L2082.20 1167.07L2083.00 1167.07L2083 1441.8ZM2085 1441.8L2085.00 1135.65L2086.00 1135.65L2086.00 1101.52L2087.00 1101.52L2087.00 1147.64L2088.00 1147.64L2088.00 1173.39L2089.00 1173.39L2089.00 1066.73L2090.00 1066.73L2090 1441.8ZM2092 1441.8L2092.00 1067.50L2092.80 1067.50L2092.80 1094.79L2093.60 1094.79L2093.60 1122.09L2094.40 1122.09L2094.40 1103.07L2095.20 1103.07L2095.20 1081.43L2096.00 1081.43L2096 1441.8ZM2099 1441.8L2099.00 1119.20L2099.80 1119.20L2099.80 1144.61L2100.60 1144.61L2100.60 1175.74L2101.40 1175.74L2101.40 1170.62L2102.20 1170.62L2102.20 1130.62L2103.00 1130.62L2103 1441.8ZM2105 1441.8L2105.00 1148.86L2106.00 1148.86L2106.00 1144.16L2107.00 1144.16L2107.00 1136.62L2108.00 1136.62L2108.00 1123.44L2109.00 1123.44L2109.00 1120.26L2110.00 1120.26L2110 1441.8ZM2112 1441.8L2112.00 1131.04L2112.80 1131.04L2112.80 1125.23L2113.60 1125.23L2113.60 1162.87L2114.40 1162.87L2114.40 1194.51L2115.20 1194.51L2115.20 1161.57L2116.00 1161.57L2116 1441.8ZM2118 1441.8L2118.00 1024.67L2119.00 1024.67L2119.00 1079.57L2120.00 1079.57L2120.00 1138.86L2121.00 1138.86L2121.00 1174.49L2122.00 1174.49L2122.00 1193.42L2123.00 1193.42L2123 1441.8ZM2125 1441.8L2125.00 1158.61L2125.80 1158.61L2125.80 1181.36L2126.60 1181.36L2126.60 1201.18L2127.40 1201.18L2127.40 1214.12L2128.20 1214.12L2128.20 1194.25L2129.00 1194.25L2129 1441.8ZM2132 1441.8L2132.00 1143.39L2132.80 1143.39L2132.80 1168.67L2133.60 1168.67L2133.60 1196.12L2134.40 1196.12L2134.40 1203.45L2135.20 1203.45L2135.20 1187.32L2136.00 1187.32L2136 1441.8ZM2138 1441.8L2138.00 1177.65L2139.00 1177.65L2139.00 1191.42L2140.00 1191.42L2140.00 1210.24L2141.00 1210.24L2141.00 1204.53L2142.00 1204.53L2142.00 1168.77L2143.00 1168.77L2143 1441.8ZM2145 1441.8L2145.00 1177.28L2145.75 1177.28L2145.75 1193.28L2146.50 1193.28L2146.50 1197.67L2147.25 1197.67L2147.25 1169.43L2148.00 1169.43L2148 1441.8ZM2158 1441.8L2158.00 1115.90L2158.80 1115.90L2158.80 1114.96L2159.60 1114.96L2159.60 1114.01L2160.40 1114.01L2160.40 1130.17L2161.20 1130.17L2161.20 1149.94L2162.00 1149.94L2162 1441.8ZM2164 1441.8L2164.00 1148.98L2165.00 1148.98L2165.00 1163.10L2166.00 1163.10L2166.00 1180.22L2167.00 1180.22L2167.00 1199.05L2168.00 1199.05L2168.00 1203.40L2169.00 1203.40L2169 1441.8ZM2171 1441.8L2171.00 1186.31L2172.00 1186.31L2172.00 1181.60L2173.00 1181.60L2173.00 1173.95L2174.00 1173.95L2174.00 1164.53L2175.00 1164.53L2175.00 1155.12L2176.00 1155.12L2176 1441.8ZM2178 1441.8L2178.00 1140.93L2178.80 1140.93L2178.80 1162.58L2179.60 1162.58L2179.60 1184.60L2180.40 1184.60L2180.40 1208.13L2181.20 1208.13L2181.20 1226.92L2182.00 1226.92L2182 1441.8ZM2184 1441.8L2184.00 1158.01L2185.00 1158.01L2185.00 1165.75L2186.00 1165.75L2186.00 1183.63L2187.00 1183.63L2187.00 1205.91L2188.00 1205.91L2188.00 1225.43L2189.00 1225.43L2189 1441.8ZM2191 1441.8L2191.00 1202.72L2191.80 1202.72L2191.80 1196.13L2192.60 1196.13L2192.60 1201.77L2193.40 1201.77L2193.40 1215.89L2194.20 1215.89L2194.20 1214.59L2195.00 1214.59L2195 1441.8ZM2197 1441.8L2197.00 1166.66L2198.00 1166.66L2198.00 1165.67L2199.00 1165.67L2199.00 1188.25L2200.00 1188.25L2200.00 1205.06L2201.00 1205.06L2201.00 1210.71L2202.00 1210.71L2202 1441.8ZM2204 1441.8L2204.00 1188.48L2204.80 1188.48L2204.80 1192.52L2205.60 1192.52L2205.60 1196.55L2206.40 1196.55L2206.40 1197.19L2207.20 1197.19L2207.20 1190.92L2208.00 1190.92L2208 1441.8ZM2211 1441.8L2211.00 1177.91L2211.80 1177.91L2211.80 1178.11L2212.60 1178.11L2212.60 1183.75L2213.40 1183.75L2213.40 1165.97L2214.20 1165.97L2214.20 1097.74L2215.00 1097.74L2215 1441.8ZM2217 1441.8L2217.00 1100.44L2218.00 1100.44L2218.00 1171.96L2219.00 1171.96L2219.00 1231.75L2220.00 1231.75L2220.00 1212.92L2221.00 1212.92L2221.00 1195.25L2222.00 1195.25L2222 1441.8ZM2224 1441.8L2224.00 1205.68L2224.80 1205.68L2224.80 1219.80L2225.60 1219.80L2225.60 1201.97L2226.40 1201.97L2226.40 1182.21L2227.20 1182.21L2227.20 1189.51L2228.00 1189.51L2228 1441.8ZM2230 1441.8L2230.00 1230.83L2231.00 1230.83L2231.00 1231.11L2232.00 1231.11L2232.00 1199.51L2233.00 1199.51L2233.00 1167.92L2234.00 1167.92L2234.00 1150.37L2235.00 1150.37L2235 1441.8ZM2238 1441.8L2238.00 1155.51L2238.75 1155.51L2238.75 1187.51L2239.50 1187.51L2239.50 1194.45L2240.25 1194.45L2240.25 1135.55L2241.00 1135.55L2241 1441.8ZM2244 1441.8L2244.00 1170.89L2244.80 1170.89L2244.80 1186.18L2245.60 1186.18L2245.60 1196.14L2246.40 1196.14L2246.40 1205.55L2247.20 1205.55L2247.20 1213.97L2248.00 1213.97L2248 1441.8ZM2250 1441.8L2250.00 1225.10L2251.00 1225.10L2251.00 1200.40L2252.00 1200.40L2252.00 1154.13L2253.00 1154.13L2253.00 1084.72L2254.00 1084.72L2254.00 1117.74L2255.00 1117.74L2255 1441.8ZM2257 1441.8L2257.00 1113.76L2257.80 1113.76L2257.80 1119.41L2258.60 1119.41L2258.60 1143.72L2259.40 1143.72L2259.40 1156.62L2260.20 1156.62L2260.20 1131.92L2261.00 1131.92L2261 1441.8ZM2263 1441.8L2263.00 1159.74L2264.00 1159.74L2264.00 1117.39L2265.00 1117.39L2265.00 1074.32L2266.00 1074.32L2266.00 1030.40L2267.00 1030.40L2267.00 986.48L2268.00 986.48L2268 1441.8ZM2270 1441.8L2270.00 917.44L2270.75 917.44L2270.75 920.82L2271.50 920.82L2271.50 870.00L2272.25 870.00L2272.25 891.17L2273.00 891.17L2273 1441.8ZM2283 1441.8L2283.00 958.66L2284.00 958.66L2284.00 1025.69L2285.00 1025.69L2285.00 1124.51L2286.00 1124.51L2286.00 1117.95L2287.00 1117.95L2287.00 1040.31L2288.00 1040.31L2288 1441.8ZM2290 1441.8L2290.00 1084.89L2290.80 1084.89L2290.80 1034.73L2291.60 1034.73L2291.60 966.50L2292.40 966.50L2292.40 1017.19L2293.20 1017.19L2293.20 1068.17L2294.00 1068.17L2294 1441.8ZM2296 1441.8L2296.00 1093.61L2297.00 1093.61L2297.00 1108.67L2298.00 1108.67L2298.00 1129.35L2299.00 1129.35L2299.00 1158.52L2300.00 1158.52L2300.00 1168.11L2301.00 1168.11L2301 1441.8ZM2303 1441.8L2303.00 1127.32L2303.80 1127.32L2303.80 1131.67L2304.60 1131.67L2304.60 1124.14L2305.40 1124.14L2305.40 1118.99L2306.20 1118.99L2306.20 1127.46L2307.00 1127.46L2307 1441.8ZM2309 1441.8L2309.00 1100.42L2310.00 1100.42L2310.00 1107.01L2311.00 1107.01L2311.00 1113.60L2312.00 1113.60L2312.00 1121.99L2313.00 1121.99L2313.00 1130.47L2314.00 1130.47L2314 1441.8ZM2316 1441.8L2316.00 1140.51L2316.80 1140.51L2316.80 1163.10L2317.60 1163.10L2317.60 1160.91L2318.40 1160.91L2318.40 1151.50L2319.20 1151.50L2319.20 1138.07L2320.00 1138.07L2320 1441.8ZM2323 1441.8L2323.00 1075.03L2323.67 1075.03L2323.67 1075.03L2324.33 1075.03L2324.33 1075.03L2325.00 1075.03L2325 1441.8ZM2329 1441.8L2329.00 1053.83L2330.00 1053.83L2330.00 1073.59L2331.00 1073.59L2331.00 1091.76L2332.00 1091.76L2332.00 1106.82L2333.00 1106.82L2333.00 1102.70L2334.00 1102.70L2334 1441.8ZM2336 1441.8L2336.00 970.90L2336.80 970.90L2336.80 952.03L2337.60 952.03L2337.60 985.91L2338.40 985.91L2338.40 1021.38L2339.20 1021.38L2339.20 1073.14L2340.00 1073.14L2340 1441.8ZM2342 1441.8L2342.00 1085.91L2343.00 1085.91L2343.00 1072.17L2344.00 1072.17L2344.00 1057.11L2345.00 1057.11L2345.00 1036.96L2346.00 1036.96L2346.00 1016.25L2347.00 1016.25L2347 1441.8ZM2349 1441.8L2349.00 926.45L2350.00 926.45L2350.00 948.41L2351.00 948.41L2351 1441.8ZM2355 1441.8L2355.00 988.45L2356.00 988.45L2356.00 1010.92L2357.00 1010.92L2357.00 1047.62L2358.00 1047.62L2358.00 1072.95L2359.00 1072.95L2359.00 1085.19L2360.00 1085.19L2360 1441.8ZM2362 1441.8L2362.00 1057.18L2363.00 1057.18L2363.00 1073.18L2364.00 1073.18L2364.00 1098.67L2365.00 1098.67L2365.00 1145.37L2366.00 1145.37L2366.00 1108.67L2367.00 1108.67L2367 1441.8ZM2369 1441.8L2369.00 1050.67L2369.80 1050.67L2369.80 1072.42L2370.60 1072.42L2370.60 1087.12L2371.40 1087.12L2371.40 1074.18L2372.20 1074.18L2372.20 1085.87L2373.00 1085.87L2373 1441.8ZM2375 1441.8L2375.00 1082.40L2376.00 1082.40L2376.00 1089.36L2377.00 1089.36L2377.00 1098.77L2378.00 1098.77L2378.00 1111.35L2379.00 1111.35L2379.00 1124.52L2380.00 1124.52L2380 1441.8ZM2382 1441.8L2382.00 1027.43L2382.80 1027.43L2382.80 1036.84L2383.60 1036.84L2383.60 1070.87L2384.40 1070.87L2384.40 1117.93L2385.20 1117.93L2385.20 1134.36L2386.00 1134.36L2386 1441.8ZM2389 1441.8L2389.00 1137.11L2390.00 1137.11L2390.00 1157.81L2391.00 1157.81L2391.00 1161.76L2392.00 1161.76L2392.00 1141.06L2393.00 1141.06L2393 1441.8ZM2395 1441.8L2395.00 1110.37L2396.00 1110.37L2396.00 1139.54L2397.00 1139.54L2397.00 1162.79L2398.00 1162.79L2398.00 1164.67L2399.00 1164.67L2399.00 1163.13L2400.00 1163.13L2400 1441.8ZM2402 1441.8L2402.00 1112.65L2402.80 1112.65L2402.80 1129.90L2403.60 1129.90L2403.60 1147.16L2404.40 1147.16L2404.40 1152.22L2405.20 1152.22L2405.20 1154.10L2406.00 1154.10L2406 1441.8ZM2408 1441.8L2408.00 1154.29L2409.00 1154.29L2409.00 1171.23L2410.00 1171.23L2410.00 1167.07L2411.00 1167.07L2411.00 1149.19L2412.00 1149.19L2412.00 1146.14L2413.00 1146.14L2413 1441.8ZM2415 1441.8L2415.00 1153.46L2415.80 1153.46L2415.80 1138.51L2416.60 1138.51L2416.60 1109.34L2417.40 1109.34L2417.40 1105.32L2418.20 1105.32L2418.20 1146.73L2419.00 1146.73L2419 1441.8ZM2421 1441.8L2421.00 1144.69L2422.00 1144.69L2422.00 1143.75L2423.00 1143.75L2423.00 1136.99L2424.00 1136.99L2424.00 1101.70L2425.00 1101.70L2425.00 1091.58L2426.00 1091.58L2426 1441.8ZM2428 1441.8L2428.00 1085.63L2428.80 1085.63L2428.80 1067.59L2429.60 1067.59L2429.60 1099.62L2430.40 1099.62L2430.40 1132.56L2431.20 1132.56L2431.20 1140.15L2432.00 1140.15L2432 1441.8ZM2435 1441.8L2435.00 1153.65L2435.80 1153.65L2435.80 1156.47L2436.60 1156.47L2436.60 1071.33L2437.40 1071.33L2437.40 1070.62L2438.20 1070.62L2438.20 1101.67L2439.00 1101.67L2439 1441.8ZM2441 1441.8L2441.00 1120.94L2442.00 1120.94L2442.00 1093.64L2443.00 1093.64L2443.00 1125.86L2444.00 1125.86L2444.00 1160.69L2445.00 1160.69L2445.00 1176.12L2446.00 1176.12L2446 1441.8ZM2448 1441.8L2448.00 1207.02L2448.80 1207.02L2448.80 1187.92L2449.60 1187.92L2449.60 1160.62L2450.40 1160.62L2450.40 1150.45L2451.20 1150.45L2451.20 1152.34L2452.00 1152.34L2452 1441.8ZM2454 1441.8L2454.00 1145.75L2455.00 1145.75L2455.00 1144.75L2456.00 1144.75L2456.00 1160.21L2457.00 1160.21L2457.00 1122.56L2458.00 1122.56L2458.00 1119.93L2459.00 1119.93L2459 1441.8ZM2461 1441.8L2461.00 1159.87L2461.80 1159.87L2461.80 1144.19L2462.60 1144.19L2462.60 1095.24L2463.40 1095.24L2463.40 1043.48L2464.20 1043.48L2464.20 994.42L2465.00 994.42L2465 1441.8ZM2467 1441.8L2467.00 1095.44L2468.00 1095.44L2468.00 1144.38L2469.00 1144.38L2469.00 1144.51L2470.00 1144.51L2470.00 1139.80L2471.00 1139.80L2471.00 1139.88L2472.00 1139.88L2472 1441.8ZM2474 1441.8L2474.00 1147.75L2475.00 1147.75L2475.00 1150.83L2476.00 1150.83L2476.00 1153.65L2477.00 1153.65L2477.00 1152.13L2478.00 1152.13L2478.00 1148.36L2479.00 1148.36L2479 1441.8ZM2483 1441.8L2483.00 1167.21L2483.67 1167.21L2483.67 1144.62L2484.33 1144.62L2484.33 1139.83L2485.00 1139.83L2485 1441.8ZM2487 1441.8L2487.00 1172.11L2488.00 1172.11L2488.00 1084.52L2489.00 1084.52L2489.00 995.11L2490.00 995.11L2490.00 913.14L2491.00 913.14L2491.00 838.47L2492.00 838.47L2492 1441.8ZM2494 1441.8L2494.00 614.47L2495.00 614.47L2495 1441.8ZM2501 1441.8L2501.00 508.66L2502.00 508.66L2502.00 631.02L2503.00 631.02L2503.00 830.70L2504.00 830.70L2504.00 979.35L2505.00 979.35L2505 1441.8ZM2507 1441.8L2507.00 976.07L2508.00 976.07L2508.00 991.25L2509.00 991.25L2509.00 1021.36L2510.00 1021.36L2510.00 1042.00L2511.00 1042.00L2511.00 902.39L2512.00 902.39L2512 1441.8ZM2514 1441.8L2514.00 868.25L2514.80 868.25L2514.80 900.25L2515.60 900.25L2515.60 965.54L2516.40 965.54L2516.40 1039.20L2517.20 1039.20L2517.20 974.49L2518.00 974.49L2518 1441.8ZM2520 1441.8L2520.00 878.21L2521.00 878.21L2521.00 830.22L2522.00 830.22L2522.00 834.19L2523.00 834.19L2523.00 862.42L2524.00 862.42L2524.00 859.57L2525.00 859.57L2525 1441.8ZM2527 1441.8L2527.00 897.95L2527.80 897.95L2527.80 829.71L2528.60 829.71L2528.60 794.17L2529.40 794.17L2529.40 774.75L2530.20 774.75L2530.20 755.33L2531.00 755.33L2531 1441.8ZM2533 1441.8L2533.00 857.39L2534.00 857.39L2534.00 897.35L2535.00 897.35L2535.00 919.21L2536.00 919.21L2536.00 885.33L2537.00 885.33L2537.00 862.80L2538.00 862.80L2538 1441.8ZM2540 1441.8L2540.00 846.01L2540.80 846.01L2540.80 864.48L2541.60 864.48L2541.60 973.89L2542.40 973.89L2542.40 946.40L2543.20 946.40L2543.20 888.99L2544.00 888.99L2544 1441.8ZM2547 1441.8L2547.00 1006.73L2547.80 1006.73L2547.80 1036.12L2548.60 1036.12L2548.60 991.88L2549.40 991.88L2549.40 947.65L2550.20 947.65L2550.20 941.37L2551.00 941.37L2551 1441.8ZM2553 1441.8L2553.00 900.92L2554.00 900.92L2554.00 952.56L2555.00 952.56L2555.00 1015.62L2556.00 1015.62L2556.00 985.34L2557.00 985.34L2557.00 939.39L2558.00 939.39L2558 1441.8ZM2560 1441.8L2560.00 899.41L2560.80 899.41L2560.80 834.48L2561.60 834.48L2561.60 818.87L2562.40 818.87L2562.40 834.87L2563.20 834.87L2563.20 888.45L2564.00 888.45L2564 1441.8ZM2566 1441.8L2566.00 993.82L2567.00 993.82L2567.00 1024.47L2568.00 1024.47L2568.00 1015.06L2569.00 1015.06L2569.00 1005.65L2570.00 1005.65L2570.00 1021.88L2571.00 1021.88L2571 1441.8ZM2573 1441.8L2573.00 980.21L2573.80 980.21L2573.80 998.30L2574.60 998.30L2574.60 1026.18L2575.40 1026.18L2575.40 1057.94L2576.20 1057.94L2576.20 1056.85L2577.00 1056.85L2577 1441.8ZM2579 1441.8L2579.00 1015.91L2580.00 1015.91L2580.00 1020.62L2581.00 1020.62L2581 1441.8ZM2582 1441.8L2582.00 960.88L2583.00 960.88L2583.00 975.08L2584.00 975.08L2584 1441.8ZM2586 1441.8L2586.00 1084.78L2587.00 1084.78L2587.00 1062.87L2588.00 1062.87L2588.00 1023.34L2589.00 1023.34L2589.00 1042.03L2590.00 1042.03L2590.00 1081.56L2591.00 1081.56L2591 1441.8ZM2593 1441.8L2593.00 1064.59L2593.80 1064.59L2593.80 1031.65L2594.60 1031.65L2594.60 1046.53L2595.40 1046.53L2595.40 1100.64L2596.20 1100.64L2596.20 1085.98L2597.00 1085.98L2597 1441.8ZM2599 1441.8L2599.00 1085.09L2600.00 1085.09L2600.00 1116.57L2601.00 1116.57L2601.00 1155.16L2602.00 1155.16L2602.00 1133.58L2603.00 1133.58L2603.00 1092.15L2604.00 1092.15L2604 1441.8ZM2606 1441.8L2606.00 1142.40L2607.00 1142.40L2607 1441.8ZM2614 1441.8L2614.00 1137.32L2615.00 1137.32L2615.00 1096.34L2616.00 1096.34L2616.00 1037.04L2617.00 1037.04L2617 1441.8ZM2619 1441.8L2619.00 1104.38L2620.00 1104.38L2620.00 1093.09L2621.00 1093.09L2621.00 1081.96L2622.00 1081.96L2622.00 1072.55L2623.00 1072.55L2623.00 1063.48L2624.00 1063.48L2624 1441.8ZM2626 1441.8L2626.00 1057.54L2626.80 1057.54L2626.80 1050.22L2627.60 1050.22L2627.60 1057.75L2628.40 1057.75L2628.40 1051.15L2629.20 1051.15L2629.20 1003.31L2630.00 1003.31L2630 1441.8ZM2632 1441.8L2632.00 1038.30L2633.00 1038.30L2633.00 1060.89L2634.00 1060.89L2634.00 1044.13L2635.00 1044.13L2635.00 1022.48L2636.00 1022.48L2636.00 1029.77L2637.00 1029.77L2637 1441.8ZM2639 1441.8L2639.00 1084.62L2639.80 1084.62L2639.80 1108.93L2640.60 1108.93L2640.60 1069.79L2641.40 1069.79L2641.40 1021.79L2642.20 1021.79L2642.20 1040.54L2643.00 1040.54L2643 1441.8ZM2645 1441.8L2645.00 1095.99L2646.00 1095.99L2646.00 1081.43L2647.00 1081.43L2647.00 1056.96L2648.00 1056.96L2648.00 1021.26L2649.00 1021.26L2649.00 978.91L2650.00 978.91L2650 1441.8ZM2652 1441.8L2652.00 1034.68L2652.80 1034.68L2652.80 1063.66L2653.60 1063.66L2653.60 1092.68L2654.40 1092.68L2654.40 1110.24L2655.20 1110.24L2655.20 1082.94L2656.00 1082.94L2656 1441.8ZM2659 1441.8L2659.00 1050.87L2659.80 1050.87L2659.80 1058.85L2660.60 1058.85L2660.60 1102.14L2661.40 1102.14L2661.40 1134.62L2662.20 1134.62L2662.20 1121.44L2663.00 1121.44L2663 1441.8ZM2665 1441.8L2665.00 1142.49L2666.00 1142.49L2666.00 1164.45L2667.00 1164.45L2667.00 1186.41L2668.00 1186.41L2668.00 1161.95L2669.00 1161.95L2669 1441.8ZM2672 1441.8L2672.00 910.89L2672.80 910.89L2672.80 961.71L2673.60 961.71L2673.60 1012.53L2674.40 1012.53L2674.40 1059.62L2675.20 1059.62L2675.20 1106.68L2676.00 1106.68L2676 1441.8ZM2678 1441.8L2678.00 1156.04L2679.00 1156.04L2679.00 1180.51L2680.00 1180.51L2680.00 1186.59L2681.00 1186.59L2681.00 1164.24L2682.00 1164.24L2682.00 1189.96L2683.00 1189.96L2683 1441.8ZM2685 1441.8L2685.00 1169.29L2685.80 1169.29L2685.80 1154.23L2686.60 1154.23L2686.60 1149.57L2687.40 1149.57L2687.40 1161.80L2688.20 1161.80L2688.20 1166.24L2689.00 1166.24L2689 1441.8ZM2691 1441.8L2691.00 1137.03L2692.00 1137.03L2692.00 1130.75L2693.00 1130.75L2693.00 1124.78L2694.00 1124.78L2694 1441.8ZM2699 1441.8L2699.00 1086.31L2700.00 1086.31L2700.00 1104.28L2701.00 1104.28L2701.00 1129.69L2702.00 1129.69L2702.00 1149.62L2703.00 1149.62L2703 1441.8ZM2705 1441.8L2705.00 1158.51L2705.80 1158.51L2705.80 1149.13L2706.60 1149.13L2706.60 1139.72L2707.40 1139.72L2707.40 1169.79L2708.20 1169.79L2708.20 1191.88L2709.00 1191.88L2709 1441.8ZM2711 1441.8L2711.00 1184.91L2712.00 1184.91L2712.00 1191.19L2713.00 1191.19L2713.00 1197.25L2714.00 1197.25L2714.00 1202.90L2715.00 1202.90L2715.00 1207.75L2716.00 1207.75L2716 1441.8ZM2718 1441.8L2718.00 1215.08L2718.80 1215.08L2718.80 1215.87L2719.60 1215.87L2719.60 1216.65L2720.40 1216.65L2720.40 1186.81L2721.20 1186.81L2721.20 1164.08L2722.00 1164.08L2722 1441.8ZM2725 1441.8L2725.00 1150.23L2726.00 1150.23L2726.00 1146.46L2727.00 1146.46L2727.00 1144.77L2728.00 1144.77L2728.00 1170.18L2729.00 1170.18L2729 1441.8ZM2731 1441.8L2731.00 1144.33L2732.00 1144.33L2732.00 1152.76L2733.00 1152.76L2733.00 1163.12L2734.00 1163.12L2734.00 1144.35L2735.00 1144.35L2735.00 1121.76L2736.00 1121.76L2736 1441.8ZM2738 1441.8L2738.00 1167.37L2738.80 1167.37L2738.80 1191.84L2739.60 1191.84L2739.60 1186.79L2740.40 1186.79L2740.40 1168.91L2741.20 1168.91L2741.20 1170.14L2742.00 1170.14L2742 1441.8ZM2744 1441.8L2744.00 1153.58L2745.00 1153.58L2745.00 1123.29L2746.00 1123.29L2746.00 1084.71L2747.00 1084.71L2747.00 1053.91L2748.00 1053.91L2748.00 1032.73L2749.00 1032.73L2749 1441.8ZM2751 1441.8L2751.00 1088.87L2751.80 1088.87L2751.80 1107.69L2752.60 1107.69L2752.60 1117.73L2753.40 1117.73L2753.40 1102.83L2754.20 1102.83L2754.20 1087.93L2755.00 1087.93L2755 1441.8ZM2757 1441.8L2757.00 1122.84L2758.00 1122.84L2758.00 1095.55L2759.00 1095.55L2759.00 1068.21L2760.00 1068.21L2760.00 1040.76L2761.00 1040.76L2761.00 1013.31L2762.00 1013.31L2762 1441.8ZM2764 1441.8L2764.00 1105.55L2764.80 1105.55L2764.80 1082.96L2765.60 1082.96L2765.60 1096.40L2766.40 1096.40L2766.40 1129.34L2767.20 1129.34L2767.20 1118.82L2768.00 1118.82L2768 1441.8ZM2771 1441.8L2771.00 983.90L2771.80 983.90L2771.80 981.41L2772.60 981.41L2772.60 985.33L2773.40 985.33L2773.40 989.57L2774.20 989.57L2774.20 994.27L2775.00 994.27L2775 1441.8ZM2777 1441.8L2777.00 1010.76L2778.00 1010.76L2778.00 1016.07L2779.00 1016.07L2779.00 996.30L2780.00 996.30L2780.00 976.54L2781.00 976.54L2781.00 1024.67L2782.00 1024.67L2782 1441.8ZM2784 1441.8L2784.00 1116.71L2784.80 1116.71L2784.80 1105.41L2785.60 1105.41L2785.60 1098.64L2786.40 1098.64L2786.40 1109.94L2787.20 1109.94L2787.20 1118.25L2788.00 1118.25L2788 1441.8ZM2790 1441.8L2790.00 1087.19L2791.00 1087.19L2791.00 1077.28L2792.00 1077.28L2792.00 1100.81L2793.00 1100.81L2793.00 1062.28L2794.00 1062.28L2794.00 1005.03L2795.00 1005.03L2795 1441.8ZM2797 1441.8L2797.00 892.63L2797.80 892.63L2797.80 928.34L2798.60 928.34L2798.60 976.34L2799.40 976.34L2799.40 971.16L2800.20 971.16L2800.20 949.51L2801.00 949.51L2801 1441.8Z" fill="#fee0b1"/><line x1="405.0" y1="1273" x2="2916.0" y2="1273" stroke="#b0b0b0" stroke-width="2" stroke-dasharray="7.4 3.2"/><line x1="405.0" y1="1104" x2="2916.0" y2="1104" stroke="#b0b0b0" stroke-width="2" stroke-dasharray="7.4 3.2"/><line x1="405.0" y1="936" x2="2916.0" y2="936" stroke="#b0b0b0" stroke-width="2" stroke-dasharray="7.4 3.2"/><line x1="405.0" y1="767" x2="2916.0" y2="767" stroke="#b0b0b0" stroke-width="2" stroke-dasharray="7.4 3.2"/><line x1="405.0" y1="598" x2="2916.0" y2="598" stroke="#b0b0b0" stroke-width="2" stroke-dasharray="7.4 3.2"/><line x1="405.0" y1="429" x2="2916.0" y2="429" stroke="#b0b0b0" stroke-width="2" stroke-dasharray="7.4 3.2"/><line x1="405.0" y1="261" x2="2916.0" y2="261" stroke="#b0b0b0" stroke-width="2" stroke-dasharray="7.4 3.2"/><line x1="405.0" y1="969" x2="2916.0" y2="969" stroke="#ff0000" stroke-width="3.75" stroke-dasharray="13.875 6"/><path d="M519.8 1014.6L521.3 861.3L523.6 839.9L524.4 938.9L526.0 832.2L527.5 1004.9L531.4 981.6L533.0 935.0L534.5 867.1L536.1 888.4L539.2 1006.8L540.7 878.7L542.3 888.4L543.8 880.7L545.4 1001.0L546.9 869.0L548.5 971.9L557.4 966.1L558.6 822.5L560.5 940.9L562.5 822.5L564.0 818.6L565.2 704.1L567.1 756.5L571.0 428.3L572.9 575.8L576.0 284.6L578.0 280.8L580.7 253.6L581.9 391.4L584.6 269.1L586.5 696.3L588.5 663.3L591.2 735.1L593.5 667.2L595.5 706.0L598.2 655.5L599.3 841.9L602.0 560.3L604.0 616.6L606.7 535.0L609.8 486.5L611.8 678.8L613.7 803.0L616.8 641.9L618.7 785.6L621.5 706.0L624.6 822.5L626.5 709.9L628.4 768.1L630.4 845.7L633.1 711.8L636.2 637.9L637.8 789.8L638.9 715.7L640.9 900.1L644.0 944.7L646.7 839.9L649.4 927.3L650.6 892.3L652.5 956.4L655.6 872.9L657.6 975.8L662.2 911.7L664.2 958.3L667.3 917.6L670.0 779.8L673.1 946.7L676.6 1053.4L679.7 789.5L682.0 946.7L684.3 1037.9L688.6 830.2L691.3 997.1L695.2 865.2L699.1 1045.7L703.0 919.5L706.9 1004.9L709.6 1065.1L711.5 950.6L714.6 1034.0L717.0 1045.7L718.5 902.0L720.8 954.4L722.8 785.6L725.5 1006.8L729.4 1069.0L730.9 950.6L735.2 810.8L737.9 1004.9L742.6 857.4L745.7 915.6L747.6 867.1L750.3 793.3L752.3 935.0L755.4 824.4L757.3 925.3L759.3 865.2L762.0 818.6L763.9 950.6L765.9 849.6L769.0 907.9L770.9 851.6L774.0 995.2L780.6 940.9L783.0 971.9L787.6 838.0L790.3 1039.8L793.0 979.7L795.4 1045.7L801.2 865.2L803.1 935.0L807.8 882.6L810.1 954.4L814.0 855.5L816.3 985.5L821.4 913.7L823.7 979.7L827.2 874.9L829.9 1008.8L833.0 942.8L835.7 971.9L837.3 917.6L839.6 886.5L842.7 942.8L844.7 816.6L847.8 721.5L850.5 878.7L853.6 886.5L855.2 977.7L858.3 775.9L860.6 843.8L862.1 632.1L864.1 700.0L866.8 614.6L869.9 624.3L870.7 787.5L873.8 698.2L876.9 773.9L880.8 702.1L882.7 632.1L893.2 816.6L894.0 509.8L896.3 795.3L899.0 742.9L901.7 839.9L904.8 768.1L911.8 632.1L914.5 523.4L916.5 698.1L917.3 575.8L919.6 628.2L921.5 587.4L923.1 702.0L925.0 632.1L927.4 632.1L928.9 721.4L930.1 608.8L932.8 624.3L935.1 682.5L937.8 754.5L941.7 715.7L943.7 824.4L947.5 799.2L950.7 937.0L953.4 803.0L956.1 907.9L959.2 962.2L963.1 779.8L967.0 878.7L972.8 779.8L975.5 772.0L980.5 773.9L982.5 814.7L986.4 894.3L990.2 810.8L993.4 810.8L997.2 892.3L1001.9 803.0L1003.8 766.2L1006.2 764.2L1008.1 806.9L1009.7 886.5L1012.0 841.9L1013.5 872.9L1015.9 818.6L1018.6 841.9L1021.3 768.1L1024.4 762.3L1026.4 841.9L1028.3 822.5L1032.2 869.0L1035.3 600.1L1038.0 467.3L1039.2 569.0L1041.1 506.9L1043.0 569.0L1045.8 547.7L1047.7 619.5L1048.5 744.8L1050.8 651.6L1052.4 772.0L1054.7 621.4L1056.6 729.3L1058.6 824.4L1060.1 737.0L1062.5 787.5L1064.4 709.9L1066.3 824.4L1069.1 799.2L1071.0 729.3L1072.9 706.0L1074.9 845.7L1077.6 671.1L1079.9 690.5L1081.9 828.3L1083.8 803.0L1085.7 740.9L1087.7 816.6L1090.4 731.2L1093.5 841.9L1095.1 896.2L1097.4 810.8L1099.3 764.2L1101.3 902.0L1103.2 882.6L1105.9 1024.3L1107.9 851.6L1110.6 872.9L1112.5 958.3L1114.5 890.4L1116.4 937.0L1118.4 907.9L1119.9 937.0L1129.2 888.4L1130.4 803.0L1131.9 917.6L1134.3 896.2L1137.0 876.8L1139.7 977.7L1142.0 923.4L1144.8 919.5L1145.5 869.0L1147.9 830.2L1149.8 880.7L1151.7 956.4L1153.7 888.4L1156.4 799.2L1159.5 966.1L1162.2 888.4L1164.5 820.5L1167.3 923.4L1170.0 816.6L1171.9 904.0L1174.3 841.9L1176.6 805.0L1178.9 923.4L1180.5 958.3L1182.8 900.1L1184.0 958.3L1185.9 853.5L1187.5 935.0L1189.4 919.5L1191.3 993.3L1193.7 929.2L1195.2 935.0L1197.2 898.2L1199.9 958.3L1202.2 946.7L1204.5 1026.3L1206.9 919.5L1209.6 843.8L1211.9 806.9L1213.9 917.6L1216.6 929.2L1219.3 826.3L1221.6 816.6L1223.6 806.9L1225.5 855.5L1228.2 832.2L1230.9 886.5L1233.3 839.9L1235.2 872.9L1237.9 902.0L1240.2 838.0L1242.6 880.7L1244.1 923.4L1248.8 869.0L1251.5 832.2L1253.4 841.9L1255.8 754.5L1258.1 882.6L1260.4 818.6L1263.2 801.1L1265.9 876.8L1268.2 814.7L1269.8 756.5L1272.9 818.6L1276.0 865.2L1277.9 937.0L1280.6 900.1L1282.6 927.3L1284.5 960.3L1286.8 896.2L1288.8 882.6L1291.1 896.2L1293.0 971.9L1296.1 1016.6L1298.1 923.4L1300.0 938.9L1302.0 863.2L1304.7 938.9L1307.8 863.2L1310.5 977.7L1312.5 925.3L1314.4 884.6L1316.7 834.1L1319.4 838.0L1324.1 830.2L1325.7 772.0L1328.4 768.1L1330.3 878.7L1333.0 838.0L1335.7 931.1L1338.1 841.9L1339.6 904.0L1342.0 795.3L1344.7 841.9L1347.4 816.6L1349.7 822.5L1351.7 900.1L1354.4 843.8L1356.3 814.7L1358.3 756.5L1361.4 772.0L1363.3 845.7L1366.0 855.5L1368.0 876.8L1369.9 826.3L1372.6 834.1L1374.6 830.2L1376.5 937.0L1378.4 859.3L1380.4 857.4L1382.7 824.4L1385.4 729.3L1387.8 645.8L1389.3 729.3L1391.3 702.1L1395.1 787.5L1397.9 694.3L1401.7 651.6L1404.1 731.2L1406.8 692.4L1409.9 871.0L1412.6 803.0L1413.8 828.3L1415.7 754.5L1417.7 841.9L1420.4 797.2L1422.3 828.3L1424.3 795.3L1428.1 772.0L1430.1 731.2L1432.0 797.2L1434.0 760.3L1435.9 733.2L1437.8 783.6L1439.8 773.9L1441.7 739.0L1443.7 698.2L1446.4 737.0L1447.5 783.6L1449.5 690.5L1451.4 739.0L1455.3 744.8L1457.3 737.0L1460.0 665.2L1462.3 777.8L1463.1 810.8L1470.1 820.5L1473.9 750.6L1475.9 839.9L1477.8 791.4L1480.5 847.7L1483.6 758.4L1485.6 795.3L1487.1 725.4L1490.2 709.9L1493.4 680.8L1494.9 841.9L1497.2 770.0L1500.0 855.5L1501.9 797.2L1504.6 880.7L1506.2 866.9L1506.9 888.3L1509.7 851.4L1512.0 855.3L1513.5 898.0L1515.5 958.2L1517.4 905.7L1519.8 865.0L1521.7 940.7L1523.6 874.7L1525.2 901.9L1526.4 855.3L1528.3 923.2L1530.2 853.3L1532.2 894.1L1534.1 851.4L1536.1 837.8L1538.0 886.3L1540.7 892.2L1542.7 929.0L1543.8 971.7L1545.8 993.1L1547.7 942.6L1550.8 944.6L1552.7 870.8L1553.9 820.3L1555.5 789.3L1557.4 832.0L1559.3 847.5L1561.3 967.9L1563.2 932.9L1565.2 932.9L1566.3 898.0L1567.9 857.2L1569.8 929.0L1571.0 952.3L1572.9 890.2L1574.1 977.6L1576.8 952.3L1584.6 936.8L1587.3 985.3L1588.9 929.0L1591.2 979.5L1594.3 1006.7L1596.2 977.6L1598.9 977.6L1600.9 886.3L1602.8 995.0L1605.2 1010.6L1607.1 1041.6L1608.3 960.1L1610.6 901.9L1612.9 800.2L1614.9 917.4L1617.6 977.6L1619.1 851.4L1621.5 948.4L1622.2 995.0L1624.6 1006.7L1627.7 1072.7L1630.0 1022.2L1631.6 1000.9L1633.1 919.3L1635.4 921.3L1637.8 890.2L1639.7 863.0L1641.6 898.0L1644.0 901.9L1645.5 931.0L1647.1 936.8L1648.6 923.2L1650.2 936.8L1652.5 921.3L1653.7 886.3L1655.6 921.3L1657.6 773.8L1659.1 804.8L1661.1 839.8L1664.2 859.2L1667.3 880.5L1668.8 1016.4L1670.8 1094.0L1673.1 962.0L1674.6 1055.2L1676.6 1031.9L1678.5 1041.6L1680.5 1068.8L1682.4 1014.4L1684.7 924.4L1687.5 1041.6L1690.2 1022.2L1692.1 977.6L1694.4 948.4L1697.2 899.9L1699.1 948.4L1701.0 917.4L1703.0 938.7L1704.9 816.5L1706.9 913.5L1710.0 872.7L1711.9 917.4L1714.6 880.5L1716.6 878.6L1719.3 888.3L1721.2 967.9L1723.2 967.9L1725.1 911.6L1726.3 1022.2L1729.4 1006.7L1732.1 1002.8L1734.0 944.6L1736.8 942.6L1739.1 1006.7L1741.0 1041.6L1743.0 1066.8L1744.9 1053.3L1746.5 987.3L1748.8 977.6L1750.7 826.2L1752.7 1018.3L1754.6 1006.7L1757.3 1080.4L1759.3 983.4L1761.2 1020.3L1763.2 1020.3L1765.9 964.0L1768.2 998.9L1771.3 940.7L1772.9 998.9L1774.8 1006.7L1776.7 1026.1L1778.7 1097.9L1780.6 1074.6L1782.6 1053.3L1784.5 1051.3L1786.4 1105.7L1788.4 1078.5L1790.3 1105.7L1792.3 1006.7L1794.2 1070.7L1796.1 1146.4L1798.9 1150.3L1802.0 1109.5L1804.7 1123.1L1809.7 1113.4L1815.6 1111.5L1817.5 1039.7L1818.7 1018.3L1821.0 1061.0L1822.5 1111.5L1824.1 1121.2L1825.7 1129.0L1827.6 1061.0L1830.3 989.2L1832.3 1033.9L1834.2 1047.4L1836.5 1018.3L1838.1 1084.3L1839.6 1028.0L1842.0 1096.0L1843.9 1150.3L1846.2 1026.1L1848.6 1043.6L1850.5 1107.6L1852.0 1076.6L1854.4 1123.1L1856.7 1096.0L1858.3 1163.9L1860.6 1146.4L1862.9 1111.5L1865.2 1063.0L1866.8 1115.4L1868.7 985.3L1870.7 1113.4L1872.2 1026.1L1874.6 1088.2L1876.1 1134.8L1878.4 1169.7L1880.8 1138.7L1882.3 1204.7L1884.7 1200.8L1886.2 1185.2L1888.2 1204.7L1890.5 1167.8L1893.2 1169.7L1895.1 1123.1L1897.1 1154.2L1899.0 1127.0L1901.0 1173.6L1902.9 1127.0L1904.8 1171.7L1906.8 1107.6L1908.7 1129.0L1910.7 1101.8L1919.6 1006.7L1922.3 971.7L1924.3 1006.7L1926.2 1064.9L1928.1 1053.3L1930.1 1117.3L1932.0 1057.1L1934.0 1111.5L1935.9 1063.0L1937.1 967.9L1939.0 1092.1L1940.6 1111.5L1942.1 1033.9L1943.7 1111.5L1945.2 1162.0L1946.8 1127.0L1948.7 1022.2L1950.7 1041.6L1952.2 1022.2L1953.8 967.9L1956.1 1103.7L1958.0 1041.6L1960.0 1107.6L1961.5 1041.6L1963.1 1103.7L1965.0 1014.4L1967.0 958.2L1968.9 1041.6L1970.8 1020.3L1973.9 1022.2L1975.9 1072.7L1978.6 1022.2L1980.5 979.5L1982.5 1041.6L1984.4 1064.9L1986.4 1039.7L1988.3 956.2L1990.2 940.7L1992.2 1014.4L1994.1 932.9L1996.1 898.0L1998.0 944.6L2000.0 932.9L2001.9 1000.9L2003.8 878.6L2005.0 873.2L2006.9 863.5L2009.7 849.9L2011.2 970.2L2012.8 931.4L2014.7 931.4L2015.9 1077.0L2017.8 1028.4L2019.8 995.5L2021.3 1090.6L2023.2 1012.9L2025.2 1063.4L2027.1 1123.6L2029.1 1061.4L2031.0 1102.2L2033.0 1053.7L2034.9 1119.7L2036.8 1075.0L2038.8 1102.2L2040.7 1057.6L2043.0 1104.1L2045.4 1065.3L2047.7 1127.4L2049.6 1065.3L2051.6 1051.7L2053.5 1090.6L2054.7 1042.0L2057.4 1055.6L2060.1 1065.3L2062.1 1131.3L2063.2 1143.0L2065.2 1143.0L2067.1 1172.1L2069.4 1179.8L2072.9 1191.5L2074.9 1172.1L2076.4 1139.1L2078.8 1168.2L2080.7 1209.0L2082.6 1160.4L2084.6 1203.1L2086.5 1092.5L2088.5 1187.6L2089.6 1055.6L2092.3 1067.3L2094.3 1123.6L2096.2 1078.9L2098.2 1098.3L2100.1 1150.7L2101.3 1191.5L2102.8 1125.5L2105.2 1150.7L2107.1 1141.0L2109.0 1113.9L2110.6 1152.7L2112.9 1119.7L2114.9 1197.3L2116.8 1129.4L2118.7 1022.6L2120.7 1144.9L2122.2 1199.3L2124.6 1141.0L2126.9 1197.3L2128.4 1218.7L2130.0 1156.6L2131.9 1143.0L2134.3 1210.9L2137.0 1164.3L2138.9 1181.8L2140.9 1220.6L2142.8 1146.8L2144.8 1172.1L2146.7 1205.1L2148.6 1146.8L2156.4 1117.7L2160.3 1113.9L2162.2 1154.6L2164.2 1139.1L2166.1 1168.2L2168.0 1207.0L2170.4 1191.5L2172.7 1179.8L2175.8 1148.8L2177.7 1135.2L2179.7 1179.8L2181.6 1228.4L2183.6 1207.0L2184.7 1150.7L2186.7 1187.6L2188.2 1226.4L2190.6 1207.0L2192.5 1193.4L2194.4 1222.5L2196.4 1191.5L2198.3 1156.6L2200.3 1203.1L2202.2 1214.8L2204.1 1187.6L2206.9 1199.3L2209.2 1183.7L2211.5 1176.0L2213.5 1187.6L2215.0 1075.0L2217.3 1086.7L2219.3 1234.2L2221.2 1195.4L2223.2 1191.5L2225.1 1220.6L2227.0 1179.8L2229.4 1207.0L2231.3 1242.0L2234.0 1150.7L2236.4 1148.8L2237.9 1144.9L2239.9 1210.9L2241.0 1135.2L2243.4 1162.4L2244.9 1187.6L2246.8 1207.0L2248.4 1220.6L2250.3 1228.4L2251.9 1187.6L2253.4 1073.1L2255.4 1183.7L2257.3 1102.2L2259.7 1162.4L2261.2 1121.6L2263.2 1181.8L2265.1 1094.4L2267.4 985.7L2269.0 884.8L2270.9 935.3L2272.1 869.3L2273.6 904.2L2278.7 931.4L2283.7 960.5L2285.7 1164.3L2287.2 1036.2L2288.4 1113.9L2290.3 1078.9L2291.9 966.3L2294.2 1092.5L2296.1 1086.7L2298.1 1117.7L2300.0 1177.9L2302.0 1117.7L2303.9 1133.3L2305.9 1117.7L2307.8 1135.2L2309.7 1100.3L2311.7 1113.9L2313.6 1131.3L2315.6 1121.6L2317.5 1168.2L2319.4 1148.8L2321.4 1117.7L2322.5 1075.0L2325.3 1075.0L2327.2 1059.5L2329.1 1045.9L2331.1 1086.7L2333.0 1117.7L2335.0 1005.2L2336.9 946.9L2338.9 1016.8L2340.0 1080.9L2341.2 1051.7L2342.7 1086.7L2344.7 1055.6L2346.6 1012.9L2348.2 900.3L2350.5 954.7L2352.4 964.4L2356.3 991.6L2358.3 1067.3L2360.2 1092.5L2362.1 1051.7L2364.1 1084.7L2365.2 1146.8L2367.2 1071.1L2369.1 1049.8L2370.7 1090.6L2372.2 1069.2L2373.8 1113.9L2375.7 1080.9L2377.7 1100.3L2379.6 1127.4L2381.6 1020.7L2383.5 1040.1L2385.4 1137.1L2387.4 1127.4L2389.3 1127.4L2391.3 1170.1L2393.2 1127.4L2395.1 1102.2L2397.1 1162.4L2399.0 1166.3L2401.7 1108.0L2404.1 1150.7L2406.0 1154.6L2408.0 1143.0L2409.9 1177.9L2411.8 1141.0L2413.8 1160.4L2415.7 1150.7L2417.7 1090.6L2419.6 1176.0L2421.5 1144.9L2423.5 1143.0L2425.0 1084.7L2427.0 1111.9L2429.3 1067.3L2431.2 1135.2L2434.0 1150.7L2435.9 1156.6L2437.1 1047.9L2439.0 1111.9L2440.6 1148.8L2442.5 1092.5L2444.4 1164.3L2446.4 1191.5L2448.3 1209.0L2450.3 1152.7L2451.4 1148.8L2453.4 1164.3L2455.3 1137.1L2456.5 1164.3L2458.0 1102.2L2460.0 1181.8L2462.3 1143.0L2465.0 993.5L2467.0 1047.9L2468.9 1148.8L2470.8 1139.1L2472.8 1141.0L2474.7 1148.8L2476.7 1154.6L2478.6 1146.8L2480.5 1164.3L2482.5 1177.9L2484.4 1131.3L2486.4 1174.0L2487.7 1172.1L2490.0 950.8L2494.3 605.9L2502.1 504.2L2504.3 981.9L2506.3 960.5L2508.2 987.7L2510.2 1049.8L2511.3 877.0L2513.3 844.1L2515.2 910.0L2516.8 1042.0L2518.3 935.3L2519.9 913.9L2521.8 814.9L2523.8 873.2L2524.9 846.0L2526.9 919.8L2528.4 807.2L2531.2 749.5L2535.4 927.5L2537.3 857.6L2539.3 915.9L2540.8 813.0L2542.4 993.5L2544.3 875.1L2546.3 983.8L2547.8 1038.2L2549.8 946.9L2551.7 935.3L2553.6 898.4L2555.6 1028.4L2557.1 939.2L2559.5 943.0L2561.4 809.1L2563.4 842.1L2564.5 946.9L2565.7 960.5L2567.6 1024.6L2569.6 1005.2L2571.1 1034.3L2573.4 976.0L2575.0 1020.7L2576.6 1073.1L2578.5 1009.0L2580.8 1020.7L2582.8 958.6L2584.7 995.5L2586.6 1094.4L2588.6 1012.9L2590.5 1094.4L2592.5 1084.7L2594.4 1016.8L2596.0 1106.1L2597.5 1069.2L2599.8 1086.7L2601.8 1166.3L2603.3 1090.6L2605.3 1143.0L2615.0 1137.1L2616.9 1014.9L2619.3 1106.1L2621.2 1082.8L2623.1 1063.4L2625.1 1071.1L2626.6 1047.9L2628.6 1063.4L2629.7 1003.2L2631.7 1016.8L2633.6 1063.4L2635.6 1018.7L2637.9 1051.7L2640.2 1111.9L2642.2 1012.9L2644.1 1082.8L2646.0 1098.3L2648.0 1047.9L2649.9 960.5L2652.6 1044.0L2655.0 1115.8L2656.9 1059.5L2659.6 1047.9L2661.6 1137.1L2663.5 1110.0L2665.5 1141.0L2667.8 1195.4L2670.1 1055.6L2672.0 908.1L2674.0 1012.9L2675.9 1110.0L2678.3 1144.9L2680.2 1195.4L2681.8 1158.5L2682.9 1210.9L2684.9 1176.0L2686.8 1144.9L2688.7 1170.1L2690.7 1144.9L2693.0 1129.4L2696.1 1110.0L2699.6 1084.7L2701.6 1137.1L2703.1 1166.3L2705.0 1158.5L2707.0 1139.1L2708.5 1193.4L2710.9 1179.8L2713.2 1195.4L2715.1 1207.0L2717.9 1214.8L2720.2 1216.7L2721.7 1162.4L2723.7 1176.0L2725.6 1150.7L2727.6 1143.0L2729.5 1195.4L2731.4 1143.0L2733.4 1164.3L2735.3 1117.7L2737.3 1148.8L2739.2 1199.3L2741.1 1162.4L2743.1 1187.6L2745.0 1143.0L2747.0 1063.4L2748.5 1028.4L2750.9 1082.8L2752.8 1121.6L2755.1 1084.7L2757.5 1131.3L2759.4 1075.0L2761.7 1007.1L2763.7 1121.6L2765.6 1075.0L2767.5 1143.0L2769.1 1075.0L2771.0 978.0L2773.4 987.7L2776.1 1001.3L2778.4 1016.8L2780.4 976.0L2782.3 1078.9L2783.9 1119.7L2785.8 1096.4L2787.7 1119.7L2789.7 1098.3L2791.6 1077.0L2792.8 1106.1L2794.3 1012.9L2795.5 935.3L2797.4 888.7L2799.4 987.7L2801.3 943.0L2802.5 956.6" fill="none" stroke="#bfbf00" stroke-width="3.75" stroke-linejoin="round" stroke-linecap="square"/><rect x="405.0" y="194.0" width="2511.0" height="1248.0" fill="none" stroke="#000" stroke-width="2"/><line x1="396.25" y1="1442" x2="405" y2="1442" stroke="#000" stroke-width="2"/><text transform="translate(350.00 1450.90) scale(0.9000 1)" font-family="Liberation Sans" font-size="25.00">0</text><text transform="translate(362.50 1450.90) scale(0.9000 1)" font-family="Liberation Sans" font-size="25.00">.</text><text transform="translate(375.00 1450.90) scale(0.9000 1)" font-family="Liberation Sans" font-size="25.00">0</text><line x1="396.25" y1="1273" x2="405" y2="1273" stroke="#000" stroke-width="2"/><text transform="translate(350.00 1282.15) scale(0.9000 1)" font-family="Liberation Sans" font-size="25.00">0</text><text transform="translate(362.50 1282.15) scale(0.9000 1)" font-family="Liberation Sans" font-size="25.00">.</text><text transform="translate(375.00 1282.15) scale(0.9000 1)" font-family="Liberation Sans" font-size="25.00">1</text><line x1="396.25" y1="1104" x2="405" y2="1104" stroke="#000" stroke-width="2"/><text transform="translate(350.00 1113.40) scale(0.9000 1)" font-family="Liberation Sans" font-size="25.00">0</text><text transform="translate(362.50 1113.40) scale(0.9000 1)" font-family="Liberation Sans" font-size="25.00">.</text><text transform="translate(375.00 1113.40) scale(0.9000 1)" font-family="Liberation Sans" font-size="25.00">2</text><line x1="396.25" y1="936" x2="405" y2="936" stroke="#000" stroke-width="2"/><text transform="translate(350.00 944.65) scale(0.9000 1)" font-family="Liberation Sans" font-size="25.00">0</text><text transform="translate(362.50 944.65) scale(0.9000 1)" font-family="Liberation Sans" font-size="25.00">.</text><text transform="translate(375.00 944.65) scale(0.9000 1)" font-family="Liberation Sans" font-size="25.00">3</text><line x1="396.25" y1="767" x2="405" y2="767" stroke="#000" stroke-width="2"/><text transform="translate(350.00 775.90) scale(0.9000 1)" font-family="Liberation Sans" font-size="25.00">0</text><text transform="translate(362.50 775.90) scale(0.9000 1)" font-family="Liberation Sans" font-size="25.00">.</text><text transform="translate(375.00 775.90) scale(0.9000 1)" font-family="Liberation Sans" font-size="25.00">4</text><line x1="396.25" y1="598" x2="405" y2="598" stroke="#000" stroke-width="2"/><text transform="translate(350.00 607.15) scale(0.9000 1)" font-family="Liberation Sans" font-size="25.00">0</text><text transform="translate(362.50 607.15) scale(0.9000 1)" font-family="Liberation Sans" font-size="25.00">.</text><text transform="translate(375.00 607.15) scale(0.9000 1)" font-family="Liberation Sans" font-size="25.00">5</text><line x1="396.25" y1="429" x2="405" y2="429" stroke="#000" stroke-width="2"/><text transform="translate(350.00 438.40) scale(0.9000 1)" font-family="Liberation Sans" font-size="25.00">0</text><text transform="translate(362.50 438.40) scale(0.9000 1)" font-family="Liberation Sans" font-size="25.00">.</text><text transform="translate(375.00 438.40) scale(0.9000 1)" font-family="Liberation Sans" font-size="25.00">6</text><line x1="396.25" y1="261" x2="405" y2="261" stroke="#000" stroke-width="2"/><text transform="translate(350.00 269.65) scale(0.9000 1)" font-family="Liberation Sans" font-size="25.00">0</text><text transform="translate(362.50 269.65) scale(0.9000 1)" font-family="Liberation Sans" font-size="25.00">.</text><text transform="translate(375.00 269.65) scale(0.9000 1)" font-family="Liberation Sans" font-size="25.00">7</text><line x1="519" y1="1442.0" x2="519" y2="1450.75" stroke="#000" stroke-width="2"/><text transform="translate(493.75 1476.50) scale(0.9000 1)" font-family="Liberation Sans" font-size="25.00">2019</text><line x1="862" y1="1442.0" x2="862" y2="1450.75" stroke="#000" stroke-width="2"/><text transform="translate(837.27 1476.50) scale(0.9000 1)" font-family="Liberation Sans" font-size="25.00">2020</text><line x1="1207" y1="1442.0" x2="1207" y2="1450.75" stroke="#000" stroke-width="2"/><text transform="translate(1181.73 1476.50) scale(0.9000 1)" font-family="Liberation Sans" font-size="25.00">2021</text><line x1="1550" y1="1442.0" x2="1550" y2="1450.75" stroke="#000" stroke-width="2"/><text transform="translate(1525.25 1476.50) scale(0.9000 1)" font-family="Liberation Sans" font-size="25.00">2022</text><line x1="1894" y1="1442.0" x2="1894" y2="1450.75" stroke="#000" stroke-width="2"/><text transform="translate(1868.77 1476.50) scale(0.9000 1)" font-family="Liberation Sans" font-size="25.00">2023</text><line x1="2237" y1="1442.0" x2="2237" y2="1450.75" stroke="#000" stroke-width="2"/><text transform="translate(2212.29 1476.50) scale(0.9000 1)" font-family="Liberation Sans" font-size="25.00">2024</text><line x1="2582" y1="1442.0" x2="2582" y2="1450.75" stroke="#000" stroke-width="2"/><text transform="translate(2556.75 1476.50) scale(0.9000 1)" font-family="Liberation Sans" font-size="25.00">2025</text><text transform="translate(1435.50 178.40) scale(0.8333 1)" font-family="Liberation Mono" font-size="37.50">estimated</text><text transform="translate(1623.00 178.40) scale(0.8333 1)" font-family="Liberation Mono" font-size="37.50">capacity</text><text transform="translate(1791.75 178.40) scale(0.8333 1)" font-family="Liberation Mono" font-size="37.50">ratio</text><rect x="1582.4" y="213.2" width="1315.1" height="62.3" rx="7.5" ry="7.5" fill="#fff" fill-opacity="0.8" stroke="#d6d6d6" stroke-width="2"/><line x1="1596.4" y1="241.4" x2="1671.4" y2="241.4" stroke="#ff0000" stroke-width="3.75" stroke-dasharray="13.875 6"/><text transform="translate(1700.50 254.60) scale(0.8333 1)" font-family="Liberation Mono" font-size="37.50">average</text><text transform="translate(1850.50 254.60) scale(0.8333 1)" font-family="Liberation Mono" font-size="37.50">estimated</text><text transform="translate(2038.00 254.60) scale(0.8333 1)" font-family="Liberation Mono" font-size="37.50">capacity</text><text transform="translate(2206.75 254.60) scale(0.8333 1)" font-family="Liberation Mono" font-size="37.50">ratio:</text><text transform="translate(2319.25 254.60) scale(0.9000 1)" font-family="Liberation Sans" font-size="37.50">0</text><text transform="translate(2338.00 254.60) scale(0.9000 1)" font-family="Liberation Sans" font-size="37.50">.</text><text transform="translate(2356.75 254.60) scale(0.9000 1)" font-family="Liberation Sans" font-size="37.50">28</text><text transform="translate(2394.25 254.60) scale(0.9000 1)" font-family="Liberation Sans" font-size="37.50">,</text><text transform="translate(2431.75 254.60) scale(0.8333 1)" font-family="Liberation Mono" font-size="37.50">blank</text><text transform="translate(2544.25 254.60) scale(0.8333 1)" font-family="Liberation Mono" font-size="37.50">parts</text><text transform="translate(2656.75 254.60) scale(0.8333 1)" font-family="Liberation Mono" font-size="37.50">are</text><text transform="translate(2731.75 254.60) scale(0.8333 1)" font-family="Liberation Mono" font-size="37.50">holidays</text></svg></body></html>
